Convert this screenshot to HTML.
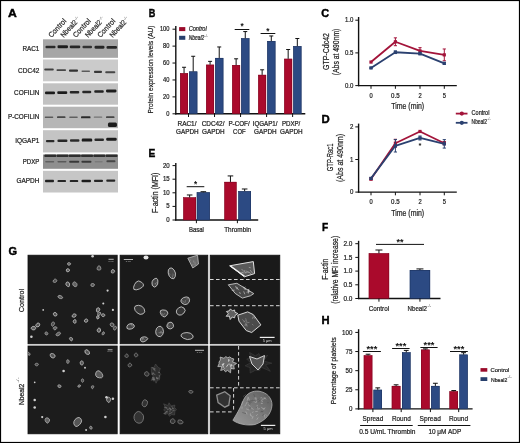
<!DOCTYPE html>
<html><head><meta charset="utf-8"><style>
html,body{margin:0;padding:0;background:#fff;}
body{width:520px;height:443px;overflow:hidden;position:relative;}
svg{position:absolute;left:0;top:0;will-change:transform;}
text{font-family:"Liberation Sans", sans-serif;}
</style></head><body>
<svg width="520" height="443" viewBox="0 0 520 443">
<defs>
<filter id="blur1" x="-20%" y="-50%" width="140%" height="200%"><feGaussianBlur stdDeviation="0.55"/></filter>
<filter id="blur07" x="-10%" y="-10%" width="120%" height="120%"><feGaussianBlur stdDeviation="0.6"/></filter>
<filter id="blur05" x="-10%" y="-10%" width="120%" height="120%"><feGaussianBlur stdDeviation="0.45"/></filter>
</defs>
<rect x="0" y="0" width="520" height="443" fill="#fff"/>
<text x="7.9" y="16.9" font-size="11.8" text-anchor="start" font-weight="bold" fill="#000" textLength="8.8" lengthAdjust="spacingAndGlyphs" stroke="#000" stroke-width="0.45">A</text>
<text x="51.4" y="37.9" font-size="7.4" text-anchor="start" font-weight="normal" fill="#2a2a2a" textLength="22.5" lengthAdjust="spacingAndGlyphs" transform="rotate(-47 51.4 37.9)" stroke="#2a2a2a" stroke-width="0.22">Control</text>
<text x="63.65" y="37.9" font-size="7.4" text-anchor="start" font-weight="normal" fill="#2a2a2a" textLength="20.5" lengthAdjust="spacingAndGlyphs" transform="rotate(-47 63.65 37.9)" stroke="#2a2a2a" stroke-width="0.22">Nbeal2</text>
<text x="75.85" y="20.56" font-size="3.6" text-anchor="start" font-weight="normal" fill="#444" textLength="4.2" lengthAdjust="spacingAndGlyphs" transform="rotate(-47 75.85 20.56)">-/-</text>
<text x="75.9" y="37.9" font-size="7.4" text-anchor="start" font-weight="normal" fill="#2a2a2a" textLength="22.5" lengthAdjust="spacingAndGlyphs" transform="rotate(-47 75.9 37.9)" stroke="#2a2a2a" stroke-width="0.22">Control</text>
<text x="88.15" y="37.9" font-size="7.4" text-anchor="start" font-weight="normal" fill="#2a2a2a" textLength="20.5" lengthAdjust="spacingAndGlyphs" transform="rotate(-47 88.15 37.9)" stroke="#2a2a2a" stroke-width="0.22">Nbeal2</text>
<text x="100.35" y="20.56" font-size="3.6" text-anchor="start" font-weight="normal" fill="#444" textLength="4.2" lengthAdjust="spacingAndGlyphs" transform="rotate(-47 100.35 20.56)">-/-</text>
<text x="100.4" y="37.9" font-size="7.4" text-anchor="start" font-weight="normal" fill="#2a2a2a" textLength="22.5" lengthAdjust="spacingAndGlyphs" transform="rotate(-47 100.4 37.9)" stroke="#2a2a2a" stroke-width="0.22">Control</text>
<text x="112.65" y="37.9" font-size="7.4" text-anchor="start" font-weight="normal" fill="#2a2a2a" textLength="20.5" lengthAdjust="spacingAndGlyphs" transform="rotate(-47 112.65 37.9)" stroke="#2a2a2a" stroke-width="0.22">Nbeal2</text>
<text x="124.85" y="20.56" font-size="3.6" text-anchor="start" font-weight="normal" fill="#444" textLength="4.2" lengthAdjust="spacingAndGlyphs" transform="rotate(-47 124.85 20.56)">-/-</text>
<rect x="43" y="39.3" width="75" height="18.5" fill="#a6a6a6"/>
<text x="39.4" y="50.6" font-size="7.2" text-anchor="end" font-weight="normal" fill="#222" textLength="17" lengthAdjust="spacingAndGlyphs" stroke="#222" stroke-width="0.22">RAC1</text>
<rect x="43" y="59.5" width="75" height="21.799999999999997" fill="#cbcbcb"/>
<text x="39.4" y="72.6" font-size="7.2" text-anchor="end" font-weight="normal" fill="#222" textLength="21.3" lengthAdjust="spacingAndGlyphs" stroke="#222" stroke-width="0.22">CDC42</text>
<rect x="43" y="83.3" width="75" height="21.400000000000006" fill="#c2c2c2"/>
<text x="39.4" y="95.0" font-size="7.2" text-anchor="end" font-weight="normal" fill="#222" textLength="25.4" lengthAdjust="spacingAndGlyphs" stroke="#222" stroke-width="0.22">COFILIN</text>
<rect x="43" y="106.7" width="75" height="21.499999999999986" fill="#b6b6b6"/>
<text x="39.4" y="119.0" font-size="7.2" text-anchor="end" font-weight="normal" fill="#222" textLength="31.5" lengthAdjust="spacingAndGlyphs" stroke="#222" stroke-width="0.22">P-COFILIN</text>
<rect x="43" y="130.2" width="75" height="22.200000000000017" fill="#c4c4c4"/>
<text x="39.4" y="143.2" font-size="7.2" text-anchor="end" font-weight="normal" fill="#222" textLength="24.2" lengthAdjust="spacingAndGlyphs" stroke="#222" stroke-width="0.22">IQGAP1</text>
<rect x="43" y="154.5" width="75" height="14.300000000000011" fill="#8f8f8f"/>
<text x="39.4" y="163.8" font-size="7.2" text-anchor="end" font-weight="normal" fill="#222" textLength="16.6" lengthAdjust="spacingAndGlyphs" stroke="#222" stroke-width="0.22">PDXP</text>
<rect x="43" y="170.8" width="75" height="21.69999999999999" fill="#c6c6c6"/>
<text x="39.4" y="183.1" font-size="7.2" text-anchor="end" font-weight="normal" fill="#222" textLength="23" lengthAdjust="spacingAndGlyphs" stroke="#222" stroke-width="0.22">GAPDH</text>
<g filter="url(#blur1)">
<rect x="45.50" y="45.70" width="10" height="2.6" rx="1.04" fill="rgb(44,44,44)"/>
<rect x="57.50" y="45.30" width="10.5" height="3.0" rx="1.20" fill="rgb(31,31,31)"/>
<rect x="69.75" y="45.50" width="10.5" height="2.8" rx="1.12" fill="rgb(40,40,40)"/>
<rect x="82.50" y="45.80" width="9.5" height="2.4" rx="0.96" fill="rgb(50,50,50)"/>
<rect x="94.50" y="45.75" width="10" height="2.9" rx="1.16" fill="rgb(38,38,38)"/>
<rect x="106.50" y="45.95" width="10.5" height="2.9" rx="1.16" fill="rgb(38,38,38)"/>
<rect x="44.25" y="68.60" width="9.5" height="2.0" rx="0.80" fill="rgb(64,64,64)"/>
<rect x="56.50" y="69.15" width="9.5" height="1.9" rx="0.76" fill="rgb(70,70,70)"/>
<rect x="69.00" y="69.45" width="9" height="2.3" rx="0.92" fill="rgb(50,50,50)"/>
<rect x="81.50" y="70.40" width="8.5" height="1.6" rx="0.64" fill="rgb(90,90,90)"/>
<rect x="94.00" y="70.70" width="8" height="2.2" rx="0.88" fill="rgb(57,57,57)"/>
<rect x="105.25" y="71.20" width="10" height="2.0" rx="0.80" fill="rgb(70,70,70)"/>
<rect x="45.00" y="91.50" width="10" height="2.8" rx="1.12" fill="rgb(31,31,31)"/>
<rect x="57.25" y="91.20" width="10" height="2.8" rx="1.12" fill="rgb(31,31,31)"/>
<rect x="69.75" y="91.00" width="9.5" height="2.6" rx="1.04" fill="rgb(38,38,38)"/>
<rect x="82.25" y="90.70" width="9" height="2.6" rx="1.04" fill="rgb(38,38,38)"/>
<rect x="94.25" y="90.20" width="9.5" height="2.6" rx="1.04" fill="rgb(35,35,35)"/>
<rect x="106.00" y="89.55" width="10.5" height="2.9" rx="1.16" fill="rgb(31,31,31)"/>
<rect x="44.75" y="116.45" width="8.5" height="1.5" rx="0.60" fill="rgb(90,90,90)"/>
<rect x="57.00" y="116.30" width="8.5" height="1.8" rx="0.72" fill="rgb(70,70,70)"/>
<rect x="69.25" y="116.45" width="8.5" height="1.5" rx="0.60" fill="rgb(96,96,96)"/>
<rect x="81.00" y="116.15" width="9.5" height="2.1" rx="0.84" fill="rgb(44,44,44)"/>
<rect x="93.75" y="116.55" width="8.5" height="1.3" rx="0.52" fill="rgb(116,116,116)"/>
<rect x="106.00" y="116.30" width="8.5" height="1.8" rx="0.72" fill="rgb(70,70,70)"/>
<rect x="45.95" y="139.90" width="8.5" height="2.4" rx="0.96" fill="rgb(44,44,44)"/>
<rect x="57.45" y="139.50" width="10" height="2.6" rx="1.04" fill="rgb(38,38,38)"/>
<rect x="69.95" y="139.25" width="9.5" height="2.5" rx="1.00" fill="rgb(44,44,44)"/>
<rect x="81.70" y="138.60" width="10.5" height="3.0" rx="1.20" fill="rgb(28,28,28)"/>
<rect x="94.45" y="138.50" width="9.5" height="2.4" rx="0.96" fill="rgb(44,44,44)"/>
<rect x="106.20" y="137.70" width="10.5" height="3.0" rx="1.20" fill="rgb(28,28,28)"/>
<rect x="45.20" y="160.90" width="9" height="1.6" rx="0.64" fill="rgb(96,96,96)"/>
<rect x="57.45" y="160.90" width="9" height="1.6" rx="0.64" fill="rgb(90,90,90)"/>
<rect x="69.20" y="160.70" width="10" height="2.0" rx="0.80" fill="rgb(57,57,57)"/>
<rect x="81.45" y="160.70" width="10" height="2.0" rx="0.80" fill="rgb(57,57,57)"/>
<rect x="94.70" y="161.00" width="8" height="1.4" rx="0.56" fill="rgb(122,122,122)"/>
<rect x="106.45" y="160.25" width="9" height="1.9" rx="0.76" fill="rgb(70,70,70)"/>
<rect x="45.00" y="179.85" width="9" height="2.3" rx="0.92" fill="rgb(35,35,35)"/>
<rect x="57.50" y="179.90" width="8.5" height="2.2" rx="0.88" fill="rgb(40,40,40)"/>
<rect x="69.75" y="179.90" width="8.5" height="2.2" rx="0.88" fill="rgb(40,40,40)"/>
<rect x="81.50" y="179.75" width="9.5" height="2.5" rx="1.00" fill="rgb(28,28,28)"/>
<rect x="94.00" y="179.70" width="9" height="2.2" rx="0.88" fill="rgb(40,40,40)"/>
<rect x="106.25" y="179.50" width="9" height="2.2" rx="0.88" fill="rgb(40,40,40)"/>
<rect x="107.95" y="122.5" width="9" height="4.4" rx="1.5" fill="#1e1e1e"/>
<rect x="44.30" y="154.6" width="12" height="2.4" rx="0.8" fill="#2e2e2e"/>
<rect x="56.55" y="154.6" width="12" height="2.4" rx="0.8" fill="#2e2e2e"/>
<rect x="68.80" y="154.6" width="12" height="2.4" rx="0.8" fill="#2e2e2e"/>
<rect x="81.05" y="154.6" width="12" height="2.4" rx="0.8" fill="#2e2e2e"/>
<rect x="93.30" y="154.6" width="12" height="2.4" rx="0.8" fill="#2e2e2e"/>
<rect x="105.55" y="154.6" width="12" height="2.4" rx="0.8" fill="#2e2e2e"/>
</g>
<text x="148.7" y="16.9" font-size="11.8" text-anchor="start" font-weight="bold" fill="#000" textLength="6.6" lengthAdjust="spacingAndGlyphs" stroke="#000" stroke-width="0.45">B</text>
<line x1="175.8" y1="26.1" x2="175.8" y2="114.39999999999999" stroke="#111" stroke-width="1.4"/>
<line x1="175.10000000000002" y1="113.8" x2="305.3" y2="113.8" stroke="#111" stroke-width="1.4"/>
<line x1="172.5" y1="113.8" x2="175.8" y2="113.8" stroke="#111" stroke-width="1"/>
<text x="169.5" y="115.8" font-size="7" text-anchor="end" font-weight="normal" fill="#222" textLength="3.2" lengthAdjust="spacingAndGlyphs" stroke="#222" stroke-width="0.22">0</text>
<line x1="172.5" y1="96.88" x2="175.8" y2="96.88" stroke="#111" stroke-width="1"/>
<text x="169.5" y="98.88" font-size="7" text-anchor="end" font-weight="normal" fill="#222" textLength="6.4" lengthAdjust="spacingAndGlyphs" stroke="#222" stroke-width="0.22">20</text>
<line x1="172.5" y1="79.96000000000001" x2="175.8" y2="79.96000000000001" stroke="#111" stroke-width="1"/>
<text x="169.5" y="81.96000000000001" font-size="7" text-anchor="end" font-weight="normal" fill="#222" textLength="6.4" lengthAdjust="spacingAndGlyphs" stroke="#222" stroke-width="0.22">40</text>
<line x1="172.5" y1="63.04" x2="175.8" y2="63.04" stroke="#111" stroke-width="1"/>
<text x="169.5" y="65.03999999999999" font-size="7" text-anchor="end" font-weight="normal" fill="#222" textLength="6.4" lengthAdjust="spacingAndGlyphs" stroke="#222" stroke-width="0.22">60</text>
<line x1="172.5" y1="46.120000000000005" x2="175.8" y2="46.120000000000005" stroke="#111" stroke-width="1"/>
<text x="169.5" y="48.120000000000005" font-size="7" text-anchor="end" font-weight="normal" fill="#222" textLength="6.4" lengthAdjust="spacingAndGlyphs" stroke="#222" stroke-width="0.22">80</text>
<line x1="172.5" y1="29.200000000000003" x2="175.8" y2="29.200000000000003" stroke="#111" stroke-width="1"/>
<text x="169.5" y="31.200000000000003" font-size="7" text-anchor="end" font-weight="normal" fill="#222" textLength="9.600000000000001" lengthAdjust="spacingAndGlyphs" stroke="#222" stroke-width="0.22">100</text>
<rect x="180.1" y="73.19200000000001" width="7.900000000000006" height="40.60799999999999" fill="#aa0a2c"/>
<rect x="180.35" y="73.44200000000001" width="7.400000000000006" height="40.35799999999999" fill="none" stroke="#7a0620" stroke-width="0.5"/>
<rect x="189.1" y="71.5" width="8.200000000000017" height="42.3" fill="#2c4a83"/>
<rect x="189.35" y="71.75" width="7.700000000000017" height="42.05" fill="none" stroke="#1a2f58" stroke-width="0.5"/>
<line x1="184.05" y1="73.19200000000001" x2="184.05" y2="67.27" stroke="#111" stroke-width="1.0"/>
<line x1="182.05" y1="67.27" x2="186.05" y2="67.27" stroke="#111" stroke-width="1.0"/>
<line x1="193.2" y1="71.5" x2="193.2" y2="56.272" stroke="#111" stroke-width="1.0"/>
<line x1="191.2" y1="56.272" x2="195.2" y2="56.272" stroke="#111" stroke-width="1.0"/>
<line x1="188.5" y1="113.8" x2="188.5" y2="117.0" stroke="#111" stroke-width="1"/>
<rect x="206.13" y="64.732" width="7.900000000000006" height="49.068" fill="#aa0a2c"/>
<rect x="206.38" y="64.982" width="7.400000000000006" height="48.818" fill="none" stroke="#7a0620" stroke-width="0.5"/>
<rect x="215.13" y="57.964" width="8.200000000000017" height="55.836" fill="#2c4a83"/>
<rect x="215.38" y="58.214" width="7.700000000000017" height="55.586" fill="none" stroke="#1a2f58" stroke-width="0.5"/>
<line x1="210.08" y1="64.732" x2="210.08" y2="61.348" stroke="#111" stroke-width="1.0"/>
<line x1="208.08" y1="61.348" x2="212.08" y2="61.348" stroke="#111" stroke-width="1.0"/>
<line x1="219.23" y1="57.964" x2="219.23" y2="46.965999999999994" stroke="#111" stroke-width="1.0"/>
<line x1="217.23" y1="46.965999999999994" x2="221.23" y2="46.965999999999994" stroke="#111" stroke-width="1.0"/>
<line x1="214.53" y1="113.8" x2="214.53" y2="117.0" stroke="#111" stroke-width="1"/>
<rect x="232.16" y="65.0704" width="7.900000000000006" height="48.72959999999999" fill="#aa0a2c"/>
<rect x="232.41" y="65.3204" width="7.400000000000006" height="48.47959999999999" fill="none" stroke="#7a0620" stroke-width="0.5"/>
<rect x="241.16" y="38.2522" width="8.200000000000017" height="75.5478" fill="#2c4a83"/>
<rect x="241.41" y="38.5022" width="7.700000000000017" height="75.2978" fill="none" stroke="#1a2f58" stroke-width="0.5"/>
<line x1="236.11" y1="65.0704" x2="236.11" y2="58.81" stroke="#111" stroke-width="1.0"/>
<line x1="234.11" y1="58.81" x2="238.11" y2="58.81" stroke="#111" stroke-width="1.0"/>
<line x1="245.26" y1="38.2522" x2="245.26" y2="31.568799999999996" stroke="#111" stroke-width="1.0"/>
<line x1="243.26" y1="31.568799999999996" x2="247.26" y2="31.568799999999996" stroke="#111" stroke-width="1.0"/>
<line x1="240.56" y1="113.8" x2="240.56" y2="117.0" stroke="#111" stroke-width="1"/>
<rect x="258.19000000000005" y="74.884" width="7.899999999999977" height="38.916" fill="#aa0a2c"/>
<rect x="258.44000000000005" y="75.134" width="7.399999999999977" height="38.666" fill="none" stroke="#7a0620" stroke-width="0.5"/>
<rect x="267.19000000000005" y="41.044" width="8.199999999999989" height="72.756" fill="#2c4a83"/>
<rect x="267.44000000000005" y="41.294" width="7.699999999999989" height="72.506" fill="none" stroke="#1a2f58" stroke-width="0.5"/>
<line x1="262.14000000000004" y1="74.884" x2="262.14000000000004" y2="69.80799999999999" stroke="#111" stroke-width="1.0"/>
<line x1="260.14000000000004" y1="69.80799999999999" x2="264.14000000000004" y2="69.80799999999999" stroke="#111" stroke-width="1.0"/>
<line x1="271.29" y1="41.044" x2="271.29" y2="35.968" stroke="#111" stroke-width="1.0"/>
<line x1="269.29" y1="35.968" x2="273.29" y2="35.968" stroke="#111" stroke-width="1.0"/>
<line x1="266.59000000000003" y1="113.8" x2="266.59000000000003" y2="117.0" stroke="#111" stroke-width="1"/>
<rect x="284.22" y="58.81" width="7.899999999999977" height="54.989999999999995" fill="#aa0a2c"/>
<rect x="284.47" y="59.06" width="7.399999999999977" height="54.739999999999995" fill="none" stroke="#7a0620" stroke-width="0.5"/>
<rect x="293.22" y="46.120000000000005" width="8.199999999999989" height="67.67999999999999" fill="#2c4a83"/>
<rect x="293.47" y="46.370000000000005" width="7.699999999999989" height="67.42999999999999" fill="none" stroke="#1a2f58" stroke-width="0.5"/>
<line x1="288.17" y1="58.81" x2="288.17" y2="49.504000000000005" stroke="#111" stroke-width="1.0"/>
<line x1="286.17" y1="49.504000000000005" x2="290.17" y2="49.504000000000005" stroke="#111" stroke-width="1.0"/>
<line x1="297.32" y1="46.120000000000005" x2="297.32" y2="38.506" stroke="#111" stroke-width="1.0"/>
<line x1="295.32" y1="38.506" x2="299.32" y2="38.506" stroke="#111" stroke-width="1.0"/>
<line x1="292.62" y1="113.8" x2="292.62" y2="117.0" stroke="#111" stroke-width="1"/>
<line x1="234.7" y1="29.5" x2="249.3" y2="29.5" stroke="#111" stroke-width="1"/>
<text x="242" y="29.11" font-size="8.2" text-anchor="middle" font-weight="bold" fill="#111">*</text>
<line x1="260.6" y1="33.5" x2="275.3" y2="33.5" stroke="#111" stroke-width="1"/>
<text x="267.8" y="33.91" font-size="8.2" text-anchor="middle" font-weight="bold" fill="#111">*</text>
<rect x="179.1" y="27.1" width="6.2" height="4.0" fill="#9a0a2a"/>
<rect x="179.1" y="35.8" width="6.2" height="4.0" fill="#273f6c"/>
<text x="188.7" y="30.9" font-size="6.4" text-anchor="start" font-weight="normal" fill="#222" textLength="18" lengthAdjust="spacingAndGlyphs" font-style="italic" stroke="#222" stroke-width="0.22">Control</text>
<text x="188.7" y="39.7" font-size="6.4" text-anchor="start" font-weight="normal" fill="#222" textLength="15.5" lengthAdjust="spacingAndGlyphs" font-style="italic" stroke="#222" stroke-width="0.22">Nbeal2</text>
<text x="204.5" y="36.7" font-size="3.4" text-anchor="start" font-weight="normal" fill="#444">-/-</text>
<text x="152.6" y="69.5" font-size="7.6" text-anchor="middle" font-weight="normal" fill="#222" textLength="88" lengthAdjust="spacingAndGlyphs" transform="rotate(-90 152.6 69.5)" stroke="#222" stroke-width="0.22">Protein expression levels (AU)</text>
<text x="187.0" y="126.2" font-size="6.5" text-anchor="middle" font-weight="normal" fill="#222" textLength="19" lengthAdjust="spacingAndGlyphs" stroke="#222" stroke-width="0.22">RAC1/</text>
<text x="187.3" y="133.7" font-size="6.5" text-anchor="middle" font-weight="normal" fill="#222" textLength="22.6" lengthAdjust="spacingAndGlyphs" stroke="#222" stroke-width="0.22">GAPDH</text>
<text x="213.03" y="126.2" font-size="6.5" text-anchor="middle" font-weight="normal" fill="#222" textLength="22.8" lengthAdjust="spacingAndGlyphs" stroke="#222" stroke-width="0.22">CDC42/</text>
<text x="213.33" y="133.7" font-size="6.5" text-anchor="middle" font-weight="normal" fill="#222" textLength="22.6" lengthAdjust="spacingAndGlyphs" stroke="#222" stroke-width="0.22">GAPDH</text>
<text x="239.06" y="126.2" font-size="6.5" text-anchor="middle" font-weight="normal" fill="#222" textLength="21.3" lengthAdjust="spacingAndGlyphs" stroke="#222" stroke-width="0.22">P-COF/</text>
<text x="239.36" y="133.7" font-size="6.5" text-anchor="middle" font-weight="normal" fill="#222" textLength="12.5" lengthAdjust="spacingAndGlyphs" stroke="#222" stroke-width="0.22">COF</text>
<text x="265.09000000000003" y="126.2" font-size="6.5" text-anchor="middle" font-weight="normal" fill="#222" textLength="24.8" lengthAdjust="spacingAndGlyphs" stroke="#222" stroke-width="0.22">IQGAP1/</text>
<text x="265.39000000000004" y="133.7" font-size="6.5" text-anchor="middle" font-weight="normal" fill="#222" textLength="22.6" lengthAdjust="spacingAndGlyphs" stroke="#222" stroke-width="0.22">GAPDH</text>
<text x="291.12" y="126.2" font-size="6.5" text-anchor="middle" font-weight="normal" fill="#222" textLength="18.4" lengthAdjust="spacingAndGlyphs" stroke="#222" stroke-width="0.22">PDXP/</text>
<text x="291.42" y="133.7" font-size="6.5" text-anchor="middle" font-weight="normal" fill="#222" textLength="22.6" lengthAdjust="spacingAndGlyphs" stroke="#222" stroke-width="0.22">GAPDH</text>
<text x="321.3" y="17.3" font-size="11.8" text-anchor="start" font-weight="bold" fill="#000" textLength="7.9" lengthAdjust="spacingAndGlyphs" stroke="#000" stroke-width="0.45">C</text>
<line x1="358.6" y1="17.0" x2="358.6" y2="86.19999999999999" stroke="#111" stroke-width="1.4"/>
<line x1="357.90000000000003" y1="85.6" x2="456.8" y2="85.6" stroke="#111" stroke-width="1.4"/>
<line x1="355.3" y1="85.6" x2="358.6" y2="85.6" stroke="#111" stroke-width="1"/>
<text x="353.3" y="87.8" font-size="7" text-anchor="end" font-weight="normal" fill="#222" textLength="8.4" lengthAdjust="spacingAndGlyphs" stroke="#222" stroke-width="0.22">0.0</text>
<line x1="355.3" y1="52.89999999999999" x2="358.6" y2="52.89999999999999" stroke="#111" stroke-width="1"/>
<text x="353.3" y="55.099999999999994" font-size="7" text-anchor="end" font-weight="normal" fill="#222" textLength="8.4" lengthAdjust="spacingAndGlyphs" stroke="#222" stroke-width="0.22">0.5</text>
<line x1="355.3" y1="20.19999999999999" x2="358.6" y2="20.19999999999999" stroke="#111" stroke-width="1"/>
<text x="353.3" y="22.399999999999988" font-size="7" text-anchor="end" font-weight="normal" fill="#222" textLength="8.4" lengthAdjust="spacingAndGlyphs" stroke="#222" stroke-width="0.22">1.0</text>
<line x1="371" y1="85.6" x2="371" y2="88.8" stroke="#111" stroke-width="1"/>
<text x="371" y="97.5" font-size="6.6" text-anchor="middle" font-weight="normal" fill="#222" textLength="3.2" lengthAdjust="spacingAndGlyphs" stroke="#222" stroke-width="0.22">0</text>
<line x1="395.4" y1="85.6" x2="395.4" y2="88.8" stroke="#111" stroke-width="1"/>
<text x="395.4" y="97.5" font-size="6.6" text-anchor="middle" font-weight="normal" fill="#222" textLength="8.6" lengthAdjust="spacingAndGlyphs" stroke="#222" stroke-width="0.22">0.5</text>
<line x1="420" y1="85.6" x2="420" y2="88.8" stroke="#111" stroke-width="1"/>
<text x="420" y="97.5" font-size="6.6" text-anchor="middle" font-weight="normal" fill="#222" textLength="3.2" lengthAdjust="spacingAndGlyphs" stroke="#222" stroke-width="0.22">2</text>
<line x1="444.3" y1="85.6" x2="444.3" y2="88.8" stroke="#111" stroke-width="1"/>
<text x="444.3" y="97.5" font-size="6.6" text-anchor="middle" font-weight="normal" fill="#222" textLength="3.2" lengthAdjust="spacingAndGlyphs" stroke="#222" stroke-width="0.22">5</text>
<text x="407.7" y="109.2" font-size="8.8" text-anchor="middle" font-weight="normal" fill="#222" textLength="33" lengthAdjust="spacingAndGlyphs" stroke="#222" stroke-width="0.22">Time (min)</text>
<text x="328.7" y="51.5" font-size="9.0" text-anchor="middle" font-weight="normal" fill="#222" textLength="37" lengthAdjust="spacingAndGlyphs" transform="rotate(-90 328.7 51.5)" stroke="#222" stroke-width="0.22">GTP-Cdc42</text>
<text x="338.9" y="51.9" font-size="9.0" text-anchor="middle" font-weight="normal" fill="#222" textLength="46.6" lengthAdjust="spacingAndGlyphs" transform="rotate(-90 338.9 51.9)" stroke="#222" stroke-width="0.22">(Abs at 490nm)</text>
<polyline points="371,62.06 395.4,41.78 420,50.94 444.3,54.86" fill="none" stroke="#a3143a" stroke-width="1.8" stroke-linejoin="round"/>
<rect x="369.4" y="60.46" width="3.2" height="3.2" fill="#a3143a"/>
<line x1="395.4" y1="37.85799999999999" x2="395.4" y2="45.70599999999999" stroke="#a3143a" stroke-width="1.0"/>
<line x1="393.79999999999995" y1="37.85799999999999" x2="397.0" y2="37.85799999999999" stroke="#a3143a" stroke-width="1.0"/>
<line x1="393.79999999999995" y1="45.70599999999999" x2="397.0" y2="45.70599999999999" stroke="#a3143a" stroke-width="1.0"/>
<rect x="393.79999999999995" y="40.18" width="3.2" height="3.2" fill="#a3143a"/>
<line x1="420" y1="47.667999999999985" x2="420" y2="54.20799999999999" stroke="#a3143a" stroke-width="1.0"/>
<line x1="418.4" y1="47.667999999999985" x2="421.6" y2="47.667999999999985" stroke="#a3143a" stroke-width="1.0"/>
<line x1="418.4" y1="54.20799999999999" x2="421.6" y2="54.20799999999999" stroke="#a3143a" stroke-width="1.0"/>
<rect x="418.4" y="49.34" width="3.2" height="3.2" fill="#a3143a"/>
<line x1="444.3" y1="48.97599999999999" x2="444.3" y2="60.748" stroke="#a3143a" stroke-width="1.0"/>
<line x1="442.7" y1="48.97599999999999" x2="445.90000000000003" y2="48.97599999999999" stroke="#a3143a" stroke-width="1.0"/>
<line x1="442.7" y1="60.748" x2="445.90000000000003" y2="60.748" stroke="#a3143a" stroke-width="1.0"/>
<rect x="442.7" y="53.26" width="3.2" height="3.2" fill="#a3143a"/>
<polyline points="371,67.94 395.4,52.25 420,53.55 444.3,63.36" fill="none" stroke="#2b4170" stroke-width="1.8" stroke-linejoin="round"/>
<line x1="371" y1="67.288" x2="371" y2="68.59599999999999" stroke="#2b4170" stroke-width="1.0"/>
<line x1="369.4" y1="67.288" x2="372.6" y2="67.288" stroke="#2b4170" stroke-width="1.0"/>
<line x1="369.4" y1="68.59599999999999" x2="372.6" y2="68.59599999999999" stroke="#2b4170" stroke-width="1.0"/>
<rect x="369.4" y="66.34" width="3.2" height="3.2" fill="#2b4170"/>
<line x1="395.4" y1="50.93799999999999" x2="395.4" y2="53.55399999999999" stroke="#2b4170" stroke-width="1.0"/>
<line x1="393.79999999999995" y1="50.93799999999999" x2="397.0" y2="50.93799999999999" stroke="#2b4170" stroke-width="1.0"/>
<line x1="393.79999999999995" y1="53.55399999999999" x2="397.0" y2="53.55399999999999" stroke="#2b4170" stroke-width="1.0"/>
<rect x="393.79999999999995" y="50.65" width="3.2" height="3.2" fill="#2b4170"/>
<line x1="420" y1="52.245999999999995" x2="420" y2="54.861999999999995" stroke="#2b4170" stroke-width="1.0"/>
<line x1="418.4" y1="52.245999999999995" x2="421.6" y2="52.245999999999995" stroke="#2b4170" stroke-width="1.0"/>
<line x1="418.4" y1="54.861999999999995" x2="421.6" y2="54.861999999999995" stroke="#2b4170" stroke-width="1.0"/>
<rect x="418.4" y="51.95" width="3.2" height="3.2" fill="#2b4170"/>
<line x1="444.3" y1="62.38299999999999" x2="444.3" y2="64.34499999999998" stroke="#2b4170" stroke-width="1.0"/>
<line x1="442.7" y1="62.38299999999999" x2="445.90000000000003" y2="62.38299999999999" stroke="#2b4170" stroke-width="1.0"/>
<line x1="442.7" y1="64.34499999999998" x2="445.90000000000003" y2="64.34499999999998" stroke="#2b4170" stroke-width="1.0"/>
<rect x="442.7" y="61.76" width="3.2" height="3.2" fill="#2b4170"/>
<text x="321.5" y="123.3" font-size="11.8" text-anchor="start" font-weight="bold" fill="#000" textLength="8.2" lengthAdjust="spacingAndGlyphs" stroke="#000" stroke-width="0.45">D</text>
<line x1="358.6" y1="123.6" x2="358.6" y2="192.7" stroke="#111" stroke-width="1.4"/>
<line x1="357.90000000000003" y1="192.1" x2="456.8" y2="192.1" stroke="#111" stroke-width="1.4"/>
<line x1="355.3" y1="192.1" x2="358.6" y2="192.1" stroke="#111" stroke-width="1"/>
<text x="353.3" y="194.29999999999998" font-size="7" text-anchor="end" font-weight="normal" fill="#222" textLength="3.4" lengthAdjust="spacingAndGlyphs" stroke="#222" stroke-width="0.22">0</text>
<line x1="355.3" y1="159.5" x2="358.6" y2="159.5" stroke="#111" stroke-width="1"/>
<text x="353.3" y="161.7" font-size="7" text-anchor="end" font-weight="normal" fill="#222" textLength="3.4" lengthAdjust="spacingAndGlyphs" stroke="#222" stroke-width="0.22">1</text>
<line x1="355.3" y1="126.89999999999999" x2="358.6" y2="126.89999999999999" stroke="#111" stroke-width="1"/>
<text x="353.3" y="129.1" font-size="7" text-anchor="end" font-weight="normal" fill="#222" textLength="3.4" lengthAdjust="spacingAndGlyphs" stroke="#222" stroke-width="0.22">2</text>
<line x1="371" y1="192.1" x2="371" y2="195.29999999999998" stroke="#111" stroke-width="1"/>
<text x="371" y="204.2" font-size="6.6" text-anchor="middle" font-weight="normal" fill="#222" textLength="3.2" lengthAdjust="spacingAndGlyphs" stroke="#222" stroke-width="0.22">0</text>
<line x1="395.4" y1="192.1" x2="395.4" y2="195.29999999999998" stroke="#111" stroke-width="1"/>
<text x="395.4" y="204.2" font-size="6.6" text-anchor="middle" font-weight="normal" fill="#222" textLength="8.6" lengthAdjust="spacingAndGlyphs" stroke="#222" stroke-width="0.22">0.5</text>
<line x1="420" y1="192.1" x2="420" y2="195.29999999999998" stroke="#111" stroke-width="1"/>
<text x="420" y="204.2" font-size="6.6" text-anchor="middle" font-weight="normal" fill="#222" textLength="3.2" lengthAdjust="spacingAndGlyphs" stroke="#222" stroke-width="0.22">2</text>
<line x1="444.3" y1="192.1" x2="444.3" y2="195.29999999999998" stroke="#111" stroke-width="1"/>
<text x="444.3" y="204.2" font-size="6.6" text-anchor="middle" font-weight="normal" fill="#222" textLength="3.2" lengthAdjust="spacingAndGlyphs" stroke="#222" stroke-width="0.22">5</text>
<text x="407.7" y="215.6" font-size="8.8" text-anchor="middle" font-weight="normal" fill="#222" textLength="33" lengthAdjust="spacingAndGlyphs" stroke="#222" stroke-width="0.22">Time (min)</text>
<text x="333.5" y="157.4" font-size="9.0" text-anchor="middle" font-weight="normal" fill="#222" textLength="27.7" lengthAdjust="spacingAndGlyphs" transform="rotate(-90 333.5 157.4)" stroke="#222" stroke-width="0.22">GTP-Rac1</text>
<text x="343.3" y="158.0" font-size="9.0" text-anchor="middle" font-weight="normal" fill="#222" textLength="48" lengthAdjust="spacingAndGlyphs" transform="rotate(-90 343.3 158.0)" stroke="#222" stroke-width="0.22">(Abs at 490nm)</text>
<polyline points="371,179.06 395.4,143.20 420,131.46 444.3,143.20" fill="none" stroke="#a3143a" stroke-width="1.8" stroke-linejoin="round"/>
<line x1="371" y1="178.082" x2="371" y2="180.038" stroke="#a3143a" stroke-width="1.0"/>
<line x1="369.4" y1="178.082" x2="372.6" y2="178.082" stroke="#a3143a" stroke-width="1.0"/>
<line x1="369.4" y1="180.038" x2="372.6" y2="180.038" stroke="#a3143a" stroke-width="1.0"/>
<rect x="369.4" y="177.46" width="3.2" height="3.2" fill="#a3143a"/>
<line x1="395.4" y1="139.28799999999998" x2="395.4" y2="147.112" stroke="#a3143a" stroke-width="1.0"/>
<line x1="393.79999999999995" y1="139.28799999999998" x2="397.0" y2="139.28799999999998" stroke="#a3143a" stroke-width="1.0"/>
<line x1="393.79999999999995" y1="147.112" x2="397.0" y2="147.112" stroke="#a3143a" stroke-width="1.0"/>
<rect x="393.79999999999995" y="141.60" width="3.2" height="3.2" fill="#a3143a"/>
<rect x="418.4" y="129.86" width="3.2" height="3.2" fill="#a3143a"/>
<line x1="444.3" y1="141.57" x2="444.3" y2="144.82999999999998" stroke="#a3143a" stroke-width="1.0"/>
<line x1="442.7" y1="141.57" x2="445.90000000000003" y2="141.57" stroke="#a3143a" stroke-width="1.0"/>
<line x1="442.7" y1="144.82999999999998" x2="445.90000000000003" y2="144.82999999999998" stroke="#a3143a" stroke-width="1.0"/>
<rect x="442.7" y="141.60" width="3.2" height="3.2" fill="#a3143a"/>
<polyline points="371,178.41 395.4,145.81 420,137.98 444.3,143.85" fill="none" stroke="#2b4170" stroke-width="1.8" stroke-linejoin="round"/>
<line x1="371" y1="177.42999999999998" x2="371" y2="179.386" stroke="#2b4170" stroke-width="1.0"/>
<line x1="369.4" y1="177.42999999999998" x2="372.6" y2="177.42999999999998" stroke="#2b4170" stroke-width="1.0"/>
<line x1="369.4" y1="179.386" x2="372.6" y2="179.386" stroke="#2b4170" stroke-width="1.0"/>
<rect x="369.4" y="176.81" width="3.2" height="3.2" fill="#2b4170"/>
<line x1="395.4" y1="139.614" x2="395.4" y2="152.00199999999998" stroke="#2b4170" stroke-width="1.0"/>
<line x1="393.79999999999995" y1="139.614" x2="397.0" y2="139.614" stroke="#2b4170" stroke-width="1.0"/>
<line x1="393.79999999999995" y1="152.00199999999998" x2="397.0" y2="152.00199999999998" stroke="#2b4170" stroke-width="1.0"/>
<rect x="393.79999999999995" y="144.21" width="3.2" height="3.2" fill="#2b4170"/>
<line x1="420" y1="136.028" x2="420" y2="139.93999999999997" stroke="#2b4170" stroke-width="1.0"/>
<line x1="418.4" y1="136.028" x2="421.6" y2="136.028" stroke="#2b4170" stroke-width="1.0"/>
<line x1="418.4" y1="139.93999999999997" x2="421.6" y2="139.93999999999997" stroke="#2b4170" stroke-width="1.0"/>
<rect x="418.4" y="136.38" width="3.2" height="3.2" fill="#2b4170"/>
<line x1="444.3" y1="139.61399999999998" x2="444.3" y2="148.08999999999997" stroke="#2b4170" stroke-width="1.0"/>
<line x1="442.7" y1="139.61399999999998" x2="445.90000000000003" y2="139.61399999999998" stroke="#2b4170" stroke-width="1.0"/>
<line x1="442.7" y1="148.08999999999997" x2="445.90000000000003" y2="148.08999999999997" stroke="#2b4170" stroke-width="1.0"/>
<rect x="442.7" y="142.25" width="3.2" height="3.2" fill="#2b4170"/>
<text x="420.0" y="148.08" font-size="7.6" text-anchor="middle" font-weight="bold" fill="#111">*</text>
<line x1="455.8" y1="113.6" x2="467.5" y2="113.6" stroke="#a3143a" stroke-width="1.8"/>
<circle cx="461.8" cy="113.6" r="2.1" fill="#a3143a"/>
<text x="471.6" y="114.89999999999999" font-size="6.4" text-anchor="start" font-weight="normal" fill="#222" textLength="17.8" lengthAdjust="spacingAndGlyphs" stroke="#222" stroke-width="0.22">Control</text>
<line x1="455.8" y1="122.8" x2="467.5" y2="122.8" stroke="#2b4170" stroke-width="1.8"/>
<circle cx="461.8" cy="122.8" r="2.1" fill="#2b4170"/>
<text x="471.6" y="124.1" font-size="6.4" text-anchor="start" font-weight="normal" fill="#222" textLength="15.5" lengthAdjust="spacingAndGlyphs" stroke="#222" stroke-width="0.22">Nbeal2</text>
<text x="487.5" y="119.8" font-size="3.3" text-anchor="start" font-weight="normal" fill="#444">-/-</text>
<text x="148.4" y="157.2" font-size="11.8" text-anchor="start" font-weight="bold" fill="#000" textLength="6.8" lengthAdjust="spacingAndGlyphs" stroke="#000" stroke-width="0.45">E</text>
<line x1="175.8" y1="162.9" x2="175.8" y2="220.6" stroke="#111" stroke-width="1.4"/>
<line x1="175.10000000000002" y1="220.0" x2="258.2" y2="220.0" stroke="#111" stroke-width="1.4"/>
<line x1="172.5" y1="220.0" x2="175.8" y2="220.0" stroke="#111" stroke-width="1"/>
<text x="169.7" y="222.0" font-size="7" text-anchor="end" font-weight="normal" fill="#222" textLength="3.4" lengthAdjust="spacingAndGlyphs" stroke="#222" stroke-width="0.22">0</text>
<line x1="172.5" y1="206.4" x2="175.8" y2="206.4" stroke="#111" stroke-width="1"/>
<text x="169.7" y="208.4" font-size="7" text-anchor="end" font-weight="normal" fill="#222" textLength="3.4" lengthAdjust="spacingAndGlyphs" stroke="#222" stroke-width="0.22">5</text>
<line x1="172.5" y1="192.8" x2="175.8" y2="192.8" stroke="#111" stroke-width="1"/>
<text x="169.7" y="194.8" font-size="7" text-anchor="end" font-weight="normal" fill="#222" textLength="6.8" lengthAdjust="spacingAndGlyphs" stroke="#222" stroke-width="0.22">10</text>
<line x1="172.5" y1="179.2" x2="175.8" y2="179.2" stroke="#111" stroke-width="1"/>
<text x="169.7" y="181.2" font-size="7" text-anchor="end" font-weight="normal" fill="#222" textLength="6.8" lengthAdjust="spacingAndGlyphs" stroke="#222" stroke-width="0.22">15</text>
<line x1="172.5" y1="165.6" x2="175.8" y2="165.6" stroke="#111" stroke-width="1"/>
<text x="169.7" y="167.6" font-size="7" text-anchor="end" font-weight="normal" fill="#222" textLength="6.8" lengthAdjust="spacingAndGlyphs" stroke="#222" stroke-width="0.22">20</text>
<rect x="183.3" y="197.424" width="12.699999999999989" height="22.575999999999993" fill="#aa0a2c"/>
<rect x="183.55" y="197.674" width="12.199999999999989" height="22.325999999999993" fill="none" stroke="#7a0620" stroke-width="0.5"/>
<line x1="189.65" y1="197.424" x2="189.65" y2="194.976" stroke="#111" stroke-width="1.0"/>
<line x1="186.85" y1="194.976" x2="192.45000000000002" y2="194.976" stroke="#111" stroke-width="1.0"/>
<rect x="196.8" y="192.256" width="13.099999999999994" height="27.744" fill="#2c4a83"/>
<rect x="197.05" y="192.506" width="12.599999999999994" height="27.494" fill="none" stroke="#1a2f58" stroke-width="0.5"/>
<line x1="203.35000000000002" y1="192.256" x2="203.35000000000002" y2="191.712" stroke="#111" stroke-width="1.0"/>
<line x1="200.55" y1="191.712" x2="206.15000000000003" y2="191.712" stroke="#111" stroke-width="1.0"/>
<rect x="224.4" y="181.92" width="12.099999999999994" height="38.08000000000001" fill="#aa0a2c"/>
<rect x="224.65" y="182.17" width="11.599999999999994" height="37.83000000000001" fill="none" stroke="#7a0620" stroke-width="0.5"/>
<line x1="230.45" y1="181.92" x2="230.45" y2="175.936" stroke="#111" stroke-width="1.0"/>
<line x1="227.64999999999998" y1="175.936" x2="233.25" y2="175.936" stroke="#111" stroke-width="1.0"/>
<rect x="238.3" y="191.168" width="12.699999999999989" height="28.831999999999994" fill="#2c4a83"/>
<rect x="238.55" y="191.418" width="12.199999999999989" height="28.581999999999994" fill="none" stroke="#1a2f58" stroke-width="0.5"/>
<line x1="244.65" y1="191.168" x2="244.65" y2="188.992" stroke="#111" stroke-width="1.0"/>
<line x1="241.85" y1="188.992" x2="247.45000000000002" y2="188.992" stroke="#111" stroke-width="1.0"/>
<line x1="196.4" y1="220.0" x2="196.4" y2="223.2" stroke="#111" stroke-width="1"/>
<line x1="237.4" y1="220.0" x2="237.4" y2="223.2" stroke="#111" stroke-width="1"/>
<line x1="186.7" y1="186.7" x2="204.3" y2="186.7" stroke="#111" stroke-width="1"/>
<text x="195.6" y="186.51" font-size="8.2" text-anchor="middle" font-weight="bold" fill="#111">*</text>
<text x="196.4" y="232" font-size="6.8" text-anchor="middle" font-weight="normal" fill="#222" textLength="15" lengthAdjust="spacingAndGlyphs" stroke="#222" stroke-width="0.22">Basal</text>
<text x="237.7" y="232" font-size="6.8" text-anchor="middle" font-weight="normal" fill="#222" textLength="27" lengthAdjust="spacingAndGlyphs" stroke="#222" stroke-width="0.22">Thrombin</text>
<text x="157.6" y="192.8" font-size="8.4" text-anchor="middle" font-weight="normal" fill="#222" textLength="40.5" lengthAdjust="spacingAndGlyphs" transform="rotate(-90 157.6 192.8)" stroke="#222" stroke-width="0.22">F-actin (MFI)</text>
<text x="321.9" y="230.8" font-size="11.8" text-anchor="start" font-weight="bold" fill="#000" textLength="6.2" lengthAdjust="spacingAndGlyphs" stroke="#000" stroke-width="0.45">F</text>
<line x1="358.6" y1="240.8" x2="358.6" y2="299.1" stroke="#111" stroke-width="1.4"/>
<line x1="357.90000000000003" y1="298.5" x2="440.5" y2="298.5" stroke="#111" stroke-width="1.4"/>
<line x1="355.3" y1="298.5" x2="358.6" y2="298.5" stroke="#111" stroke-width="1"/>
<text x="352.4" y="300.7" font-size="7" text-anchor="end" font-weight="normal" fill="#222" textLength="9.0" lengthAdjust="spacingAndGlyphs" stroke="#222" stroke-width="0.22">0.0</text>
<line x1="355.3" y1="284.8" x2="358.6" y2="284.8" stroke="#111" stroke-width="1"/>
<text x="352.4" y="287.0" font-size="7" text-anchor="end" font-weight="normal" fill="#222" textLength="9.0" lengthAdjust="spacingAndGlyphs" stroke="#222" stroke-width="0.22">0.5</text>
<line x1="355.3" y1="271.1" x2="358.6" y2="271.1" stroke="#111" stroke-width="1"/>
<text x="352.4" y="273.3" font-size="7" text-anchor="end" font-weight="normal" fill="#222" textLength="9.0" lengthAdjust="spacingAndGlyphs" stroke="#222" stroke-width="0.22">1.0</text>
<line x1="355.3" y1="257.4" x2="358.6" y2="257.4" stroke="#111" stroke-width="1"/>
<text x="352.4" y="259.59999999999997" font-size="7" text-anchor="end" font-weight="normal" fill="#222" textLength="9.0" lengthAdjust="spacingAndGlyphs" stroke="#222" stroke-width="0.22">1.5</text>
<line x1="355.3" y1="243.7" x2="358.6" y2="243.7" stroke="#111" stroke-width="1"/>
<text x="352.4" y="245.89999999999998" font-size="7" text-anchor="end" font-weight="normal" fill="#222" textLength="9.0" lengthAdjust="spacingAndGlyphs" stroke="#222" stroke-width="0.22">2.0</text>
<rect x="368.8" y="253.29000000000002" width="20.30000000000001" height="45.20999999999998" fill="#aa0a2c"/>
<rect x="369.05" y="253.54000000000002" width="19.80000000000001" height="44.95999999999998" fill="none" stroke="#7a0620" stroke-width="0.5"/>
<line x1="378.95" y1="253.29000000000002" x2="378.95" y2="250.002" stroke="#111" stroke-width="1.0"/>
<line x1="375.45" y1="250.002" x2="382.45" y2="250.002" stroke="#111" stroke-width="1.0"/>
<rect x="409.8" y="270.004" width="20.30000000000001" height="28.49599999999998" fill="#2c4a83"/>
<rect x="410.05" y="270.254" width="19.80000000000001" height="28.24599999999998" fill="none" stroke="#1a2f58" stroke-width="0.5"/>
<line x1="419.95" y1="270.004" x2="419.95" y2="268.908" stroke="#111" stroke-width="1.0"/>
<line x1="416.45" y1="268.908" x2="423.45" y2="268.908" stroke="#111" stroke-width="1.0"/>
<line x1="378.95" y1="298.5" x2="378.95" y2="301.7" stroke="#111" stroke-width="1"/>
<line x1="419.95" y1="298.5" x2="419.95" y2="301.7" stroke="#111" stroke-width="1"/>
<line x1="376" y1="244.4" x2="424" y2="244.4" stroke="#111" stroke-width="1"/>
<text x="400" y="244.81" font-size="8.2" text-anchor="middle" font-weight="bold" fill="#111" textLength="7" lengthAdjust="spacingAndGlyphs">**</text>
<text x="378.95" y="311.2" font-size="7.0" text-anchor="middle" font-weight="normal" fill="#222" textLength="20.5" lengthAdjust="spacingAndGlyphs" stroke="#222" stroke-width="0.22">Control</text>
<text x="417.3" y="311.2" font-size="7.0" text-anchor="middle" font-weight="normal" fill="#222" textLength="19.5" lengthAdjust="spacingAndGlyphs" stroke="#222" stroke-width="0.22">Nbeal2</text>
<text x="427.6" y="307.0" font-size="3.5" text-anchor="start" font-weight="normal" fill="#444">-/-</text>
<text x="328.2" y="269.2" font-size="8.4" text-anchor="middle" font-weight="normal" fill="#222" textLength="21" lengthAdjust="spacingAndGlyphs" transform="rotate(-90 328.2 269.2)" stroke="#222" stroke-width="0.22">F-actin</text>
<text x="338.0" y="269.8" font-size="8.4" text-anchor="middle" font-weight="normal" fill="#222" textLength="68" lengthAdjust="spacingAndGlyphs" transform="rotate(-90 338.0 269.8)" stroke="#222" stroke-width="0.22">(relative MFI increase)</text>
<text x="321.5" y="324.2" font-size="11.8" text-anchor="start" font-weight="bold" fill="#000" textLength="8.1" lengthAdjust="spacingAndGlyphs" stroke="#000" stroke-width="0.45">H</text>
<line x1="358.6" y1="329.2" x2="358.6" y2="409.5" stroke="#111" stroke-width="1.4"/>
<line x1="357.90000000000003" y1="408.9" x2="472.6" y2="408.9" stroke="#111" stroke-width="1.4"/>
<line x1="355.3" y1="408.9" x2="358.6" y2="408.9" stroke="#111" stroke-width="1"/>
<text x="352.4" y="411.4" font-size="7" text-anchor="end" font-weight="normal" fill="#222" textLength="3.45" lengthAdjust="spacingAndGlyphs" stroke="#222" stroke-width="0.22">0</text>
<line x1="355.3" y1="389.78" x2="358.6" y2="389.78" stroke="#111" stroke-width="1"/>
<text x="352.4" y="392.28" font-size="7" text-anchor="end" font-weight="normal" fill="#222" textLength="6.9" lengthAdjust="spacingAndGlyphs" stroke="#222" stroke-width="0.22">25</text>
<line x1="355.3" y1="370.65999999999997" x2="358.6" y2="370.65999999999997" stroke="#111" stroke-width="1"/>
<text x="352.4" y="373.15999999999997" font-size="7" text-anchor="end" font-weight="normal" fill="#222" textLength="6.9" lengthAdjust="spacingAndGlyphs" stroke="#222" stroke-width="0.22">50</text>
<line x1="355.3" y1="351.53999999999996" x2="358.6" y2="351.53999999999996" stroke="#111" stroke-width="1"/>
<text x="352.4" y="354.03999999999996" font-size="7" text-anchor="end" font-weight="normal" fill="#222" textLength="6.9" lengthAdjust="spacingAndGlyphs" stroke="#222" stroke-width="0.22">75</text>
<line x1="355.3" y1="332.41999999999996" x2="358.6" y2="332.41999999999996" stroke="#111" stroke-width="1"/>
<text x="352.4" y="334.91999999999996" font-size="7" text-anchor="end" font-weight="normal" fill="#222" textLength="10.350000000000001" lengthAdjust="spacingAndGlyphs" stroke="#222" stroke-width="0.22">100</text>
<rect x="363.8" y="355.364" width="8.5" height="53.536" fill="#aa0a2c"/>
<rect x="364.05" y="355.614" width="8.0" height="53.286" fill="none" stroke="#7a0620" stroke-width="0.5"/>
<line x1="368.05" y1="355.364" x2="368.05" y2="354.2168" stroke="#111" stroke-width="1.0"/>
<line x1="365.65000000000003" y1="354.2168" x2="370.45" y2="354.2168" stroke="#111" stroke-width="1.0"/>
<rect x="373.5" y="389.78" width="8.5" height="19.120000000000005" fill="#2c4a83"/>
<rect x="373.75" y="390.03" width="8.0" height="18.870000000000005" fill="none" stroke="#1a2f58" stroke-width="0.5"/>
<line x1="377.75" y1="389.78" x2="377.75" y2="387.868" stroke="#111" stroke-width="1.0"/>
<line x1="375.35" y1="387.868" x2="380.15" y2="387.868" stroke="#111" stroke-width="1.0"/>
<rect x="391.8" y="385.95599999999996" width="8.599999999999966" height="22.944000000000017" fill="#aa0a2c"/>
<rect x="392.05" y="386.20599999999996" width="8.099999999999966" height="22.694000000000017" fill="none" stroke="#7a0620" stroke-width="0.5"/>
<line x1="396.1" y1="385.95599999999996" x2="396.1" y2="384.80879999999996" stroke="#111" stroke-width="1.0"/>
<line x1="393.70000000000005" y1="384.80879999999996" x2="398.5" y2="384.80879999999996" stroke="#111" stroke-width="1.0"/>
<rect x="402" y="352.3048" width="8.5" height="56.59519999999998" fill="#2c4a83"/>
<rect x="402.25" y="352.5548" width="8.0" height="56.34519999999998" fill="none" stroke="#1a2f58" stroke-width="0.5"/>
<line x1="406.25" y1="352.3048" x2="406.25" y2="350.39279999999997" stroke="#111" stroke-width="1.0"/>
<line x1="403.85" y1="350.39279999999997" x2="408.65" y2="350.39279999999997" stroke="#111" stroke-width="1.0"/>
<rect x="421" y="349.628" width="8.699999999999989" height="59.27199999999999" fill="#aa0a2c"/>
<rect x="421.25" y="349.878" width="8.199999999999989" height="59.02199999999999" fill="none" stroke="#7a0620" stroke-width="0.5"/>
<line x1="425.35" y1="349.628" x2="425.35" y2="348.8632" stroke="#111" stroke-width="1.0"/>
<line x1="422.95000000000005" y1="348.8632" x2="427.75" y2="348.8632" stroke="#111" stroke-width="1.0"/>
<rect x="431.1" y="385.95599999999996" width="8.5" height="22.944000000000017" fill="#2c4a83"/>
<rect x="431.35" y="386.20599999999996" width="8.0" height="22.694000000000017" fill="none" stroke="#1a2f58" stroke-width="0.5"/>
<line x1="435.35" y1="385.95599999999996" x2="435.35" y2="383.27919999999995" stroke="#111" stroke-width="1.0"/>
<line x1="432.95000000000005" y1="383.27919999999995" x2="437.75" y2="383.27919999999995" stroke="#111" stroke-width="1.0"/>
<rect x="449.5" y="391.3096" width="8.5" height="17.59039999999999" fill="#aa0a2c"/>
<rect x="449.75" y="391.5596" width="8.0" height="17.34039999999999" fill="none" stroke="#7a0620" stroke-width="0.5"/>
<line x1="453.75" y1="391.3096" x2="453.75" y2="390.54479999999995" stroke="#111" stroke-width="1.0"/>
<line x1="451.35" y1="390.54479999999995" x2="456.15" y2="390.54479999999995" stroke="#111" stroke-width="1.0"/>
<rect x="459.4" y="354.5992" width="8.400000000000034" height="54.30079999999998" fill="#2c4a83"/>
<rect x="459.65" y="354.8492" width="7.900000000000034" height="54.05079999999998" fill="none" stroke="#1a2f58" stroke-width="0.5"/>
<line x1="463.6" y1="354.5992" x2="463.6" y2="352.68719999999996" stroke="#111" stroke-width="1.0"/>
<line x1="461.20000000000005" y1="352.68719999999996" x2="466.0" y2="352.68719999999996" stroke="#111" stroke-width="1.0"/>
<line x1="372.9" y1="408.9" x2="372.9" y2="412.09999999999997" stroke="#111" stroke-width="1"/>
<line x1="401.2" y1="408.9" x2="401.2" y2="412.09999999999997" stroke="#111" stroke-width="1"/>
<line x1="430.4" y1="408.9" x2="430.4" y2="412.09999999999997" stroke="#111" stroke-width="1"/>
<line x1="458.7" y1="408.9" x2="458.7" y2="412.09999999999997" stroke="#111" stroke-width="1"/>
<line x1="362.9" y1="351.5" x2="380.9" y2="351.5" stroke="#111" stroke-width="1"/>
<text x="371.9" y="351.71" font-size="8.2" text-anchor="middle" font-weight="bold" fill="#111" textLength="10.8" lengthAdjust="spacingAndGlyphs">***</text>
<line x1="392.1" y1="348.5" x2="409.6" y2="348.5" stroke="#111" stroke-width="1"/>
<text x="400.85" y="348.71" font-size="8.2" text-anchor="middle" font-weight="bold" fill="#111" textLength="10.8" lengthAdjust="spacingAndGlyphs">***</text>
<line x1="420.4" y1="347.5" x2="437.6" y2="347.5" stroke="#111" stroke-width="1"/>
<text x="429.0" y="347.71" font-size="8.2" text-anchor="middle" font-weight="bold" fill="#111" textLength="10.8" lengthAdjust="spacingAndGlyphs">***</text>
<line x1="450" y1="351.5" x2="467.8" y2="351.5" stroke="#111" stroke-width="1"/>
<text x="458.9" y="351.71" font-size="8.2" text-anchor="middle" font-weight="bold" fill="#111" textLength="10.8" lengthAdjust="spacingAndGlyphs">***</text>
<text x="372.9" y="420.8" font-size="7.3" text-anchor="middle" font-weight="normal" fill="#222" textLength="20.6" lengthAdjust="spacingAndGlyphs" stroke="#222" stroke-width="0.22">Spread</text>
<text x="401.35" y="420.8" font-size="7.3" text-anchor="middle" font-weight="normal" fill="#222" textLength="18.9" lengthAdjust="spacingAndGlyphs" stroke="#222" stroke-width="0.22">Round</text>
<text x="430.2" y="420.8" font-size="7.3" text-anchor="middle" font-weight="normal" fill="#222" textLength="21.2" lengthAdjust="spacingAndGlyphs" stroke="#222" stroke-width="0.22">Spread</text>
<text x="458.5" y="420.8" font-size="7.3" text-anchor="middle" font-weight="normal" fill="#222" textLength="19.2" lengthAdjust="spacingAndGlyphs" stroke="#222" stroke-width="0.22">Round</text>
<line x1="360.1" y1="425.5" x2="412.7" y2="425.5" stroke="#111" stroke-width="1.1"/>
<line x1="417.8" y1="425.5" x2="470.4" y2="425.5" stroke="#111" stroke-width="1.1"/>
<text x="387.35" y="433.8" font-size="7.2" text-anchor="middle" font-weight="normal" fill="#222" textLength="56.3" lengthAdjust="spacingAndGlyphs" stroke="#222" stroke-width="0.22">0.5 U/mL Thrombin</text>
<text x="444.8" y="433.8" font-size="7.2" text-anchor="middle" font-weight="normal" fill="#222" textLength="32.8" lengthAdjust="spacingAndGlyphs" stroke="#222" stroke-width="0.22">10 &#956;M ADP</text>
<rect x="480.5" y="368.1" width="6.8" height="3.6" fill="#9a0a2a"/>
<rect x="480.5" y="377.2" width="6.8" height="3.8" fill="#273f6c"/>
<text x="490.6" y="372.0" font-size="6.2" text-anchor="start" font-weight="normal" fill="#222" textLength="18.8" lengthAdjust="spacingAndGlyphs" stroke="#222" stroke-width="0.22">Control</text>
<text x="491.0" y="381.5" font-size="6.2" text-anchor="start" font-weight="normal" fill="#222" textLength="16.3" lengthAdjust="spacingAndGlyphs" stroke="#222" stroke-width="0.22">Nbeal2</text>
<text x="507.6" y="378.4" font-size="3.4" text-anchor="start" font-weight="normal" fill="#444" textLength="4" lengthAdjust="spacingAndGlyphs">-/-</text>
<text x="336.3" y="370.7" font-size="7.6" text-anchor="middle" font-weight="normal" fill="#222" textLength="67" lengthAdjust="spacingAndGlyphs" transform="rotate(-90 336.3 370.7)" stroke="#222" stroke-width="0.22">Percentage of platelets</text>
<text x="8.6" y="255.3" font-size="11.8" text-anchor="start" font-weight="bold" fill="#000" textLength="8.6" lengthAdjust="spacingAndGlyphs" stroke="#000" stroke-width="0.45">G</text>
<rect x="28" y="255.2" width="89.2" height="88.6" fill="#1c1c1c" stroke="#0f0f0f" stroke-width="0.8"/>
<rect x="120.1" y="255.2" width="87.7" height="88.6" fill="#1a1a1a" stroke="#0f0f0f" stroke-width="0.8"/>
<rect x="210.2" y="255.2" width="69.6" height="88.6" fill="#1a1a1a" stroke="#0f0f0f" stroke-width="0.8"/>
<rect x="28" y="346" width="89.2" height="87.8" fill="#1c1c1c" stroke="#0f0f0f" stroke-width="0.8"/>
<rect x="120.1" y="346" width="87.7" height="87.8" fill="#191919" stroke="#0f0f0f" stroke-width="0.8"/>
<rect x="210.2" y="346" width="69.6" height="87.8" fill="#1a1a1a" stroke="#0f0f0f" stroke-width="0.8"/>
<text x="23.9" y="300.6" font-size="7.2" text-anchor="middle" font-weight="normal" fill="#222" textLength="23.3" lengthAdjust="spacingAndGlyphs" transform="rotate(-90 23.9 300.6)" stroke="#222" stroke-width="0.22">Control</text>
<text x="23.9" y="394.4" font-size="7.2" text-anchor="middle" font-weight="normal" fill="#222" textLength="21.3" lengthAdjust="spacingAndGlyphs" transform="rotate(-90 23.9 394.4)" stroke="#222" stroke-width="0.22">Nbeal2</text>
<text x="19.2" y="382.8" font-size="3.6" text-anchor="start" font-weight="normal" fill="#444" textLength="5.5" lengthAdjust="spacingAndGlyphs" transform="rotate(-90 19.2 382.8)">-/-</text>
<g filter="url(#blur05)">
</g><g filter="url(#blur07)">
<path d="M69.21,265.14 Q68.25,265.28 67.83,264.68 Q67.41,264.07 67.57,263.41 Q67.73,262.75 68.65,262.68 Q69.57,262.60 70.23,263.05 Q70.89,263.50 70.53,264.25 Q70.17,265.01 69.21,265.14Z" fill="rgb(96,96,96)" stroke="rgb(176,176,176)" stroke-width="0.9"/>
<path d="M69.50,270.47 Q69.40,271.33 68.33,271.61 Q67.25,271.89 66.73,271.44 Q66.20,270.98 66.44,269.90 Q66.67,268.81 67.44,268.76 Q68.21,268.70 68.91,269.15 Q69.61,269.60 69.50,270.47Z" fill="rgb(90,90,90)" stroke="rgb(198,198,198)" stroke-width="0.9"/>
<path d="M100.82,268.15 Q101.14,269.61 100.23,269.87 Q99.32,270.13 98.11,269.98 Q96.89,269.82 97.11,268.50 Q97.33,267.18 98.14,266.23 Q98.94,265.29 99.72,265.99 Q100.50,266.69 100.82,268.15Z" fill="rgb(74,74,74)" stroke="rgb(155,155,155)" stroke-width="0.9"/>
<path d="M114.26,272.28 Q113.65,272.94 112.50,273.00 Q111.34,273.06 111.30,272.13 Q111.26,271.21 111.57,270.36 Q111.88,269.51 113.01,269.67 Q114.14,269.83 114.51,270.73 Q114.88,271.63 114.26,272.28Z" fill="rgb(90,90,90)" stroke="rgb(184,184,184)" stroke-width="0.9"/>
<path d="M56.34,281.73 Q55.64,282.40 54.65,282.45 Q53.65,282.50 53.20,281.85 Q52.75,281.21 53.69,279.99 Q54.62,278.77 55.59,279.16 Q56.56,279.55 56.80,280.31 Q57.04,281.07 56.34,281.73Z" fill="rgb(81,81,81)" stroke="rgb(156,156,156)" stroke-width="0.9"/>
<path d="M66.56,285.60 Q65.74,284.87 65.98,283.47 Q66.23,282.08 67.40,282.01 Q68.57,281.94 69.12,282.94 Q69.67,283.94 69.49,285.41 Q69.30,286.88 68.34,286.60 Q67.38,286.33 66.56,285.60Z" fill="rgb(80,80,80)" stroke="rgb(197,197,197)" stroke-width="0.9"/>
<path d="M73.78,286.00 Q72.44,284.89 72.71,283.81 Q72.99,282.73 73.65,282.09 Q74.30,281.45 75.64,282.35 Q76.97,283.26 77.07,284.64 Q77.17,286.03 76.14,286.56 Q75.12,287.10 73.78,286.00Z" fill="rgb(98,98,98)" stroke="rgb(155,155,155)" stroke-width="0.9"/>
<path d="M93.48,286.22 Q92.62,286.72 91.75,286.32 Q90.89,285.91 90.80,285.14 Q90.72,284.37 91.55,283.87 Q92.38,283.37 93.44,283.71 Q94.49,284.05 94.41,284.89 Q94.33,285.72 93.48,286.22Z" fill="rgb(76,76,76)" stroke="rgb(175,175,175)" stroke-width="0.9"/>
<circle cx="107.6" cy="290.6" r="1.10" fill="#d0d0d0"/>
<path d="M60.52,298.59 Q59.28,298.42 58.42,297.55 Q57.57,296.69 58.25,295.91 Q58.93,295.12 60.24,295.54 Q61.55,295.96 62.25,296.75 Q62.94,297.55 62.35,298.16 Q61.77,298.77 60.52,298.59Z" fill="rgb(91,91,91)" stroke="rgb(173,173,173)" stroke-width="0.9"/>
<circle cx="103.3" cy="303.5" r="1.02" fill="#d0d0d0"/>
<circle cx="43.2" cy="309.9" r="0.85" fill="#d0d0d0"/>
<path d="M54.88,315.93 Q53.73,315.63 53.48,314.65 Q53.22,313.67 53.52,313.10 Q53.82,312.52 55.03,312.55 Q56.23,312.58 56.75,313.74 Q57.27,314.89 56.65,315.56 Q56.02,316.23 54.88,315.93Z" fill="rgb(80,80,80)" stroke="rgb(192,192,192)" stroke-width="0.9"/>
<path d="M75.60,316.43 Q74.96,317.30 73.49,317.19 Q72.02,317.09 72.14,316.15 Q72.26,315.21 72.99,314.48 Q73.71,313.75 74.81,313.91 Q75.90,314.08 76.08,314.82 Q76.25,315.57 75.60,316.43Z" fill="rgb(81,81,81)" stroke="rgb(193,193,193)" stroke-width="0.9"/>
<path d="M99.76,309.71 Q99.59,310.85 98.45,311.72 Q97.30,312.59 96.83,311.79 Q96.36,310.99 96.43,309.78 Q96.50,308.57 97.36,308.03 Q98.22,307.49 99.07,308.03 Q99.93,308.57 99.76,309.71Z" fill="rgb(91,91,91)" stroke="rgb(194,194,194)" stroke-width="0.9"/>
<path d="M100.05,314.65 Q99.34,315.40 98.62,315.46 Q97.91,315.52 97.75,314.83 Q97.60,314.15 98.03,313.32 Q98.46,312.50 99.58,312.38 Q100.71,312.26 100.74,313.08 Q100.77,313.90 100.05,314.65Z" fill="rgb(72,72,72)" stroke="rgb(183,183,183)" stroke-width="0.9"/>
<path d="M103.85,316.49 Q103.02,316.87 102.21,316.35 Q101.40,315.84 101.46,315.02 Q101.53,314.20 102.53,313.90 Q103.53,313.60 104.25,314.12 Q104.97,314.64 104.82,315.38 Q104.67,316.12 103.85,316.49Z" fill="rgb(87,87,87)" stroke="rgb(180,180,180)" stroke-width="0.9"/>
<circle cx="112.9" cy="309.9" r="1.10" fill="#d0d0d0"/>
<path d="M87.65,321.17 Q87.32,322.06 86.28,322.17 Q85.24,322.28 84.64,321.68 Q84.04,321.07 84.60,320.11 Q85.15,319.15 86.05,319.00 Q86.95,318.85 87.46,319.57 Q87.97,320.28 87.65,321.17Z" fill="rgb(75,75,75)" stroke="rgb(192,192,192)" stroke-width="0.9"/>
<path d="M73.57,322.37 Q72.96,321.44 73.48,320.63 Q73.99,319.81 74.86,319.64 Q75.73,319.47 75.93,320.58 Q76.12,321.69 75.86,322.49 Q75.61,323.28 74.89,323.29 Q74.17,323.30 73.57,322.37Z" fill="rgb(73,73,73)" stroke="rgb(200,200,200)" stroke-width="0.9"/>
<path d="M96.80,318.09 Q96.51,317.03 96.90,316.27 Q97.29,315.51 97.91,315.69 Q98.54,315.86 98.97,316.83 Q99.40,317.80 98.89,318.24 Q98.38,318.68 97.73,318.91 Q97.09,319.15 96.80,318.09Z" fill="rgb(97,97,97)" stroke="rgb(199,199,199)" stroke-width="0.9"/>
<path d="M39.65,325.20 Q39.37,326.41 38.08,326.74 Q36.78,327.07 36.08,326.47 Q35.38,325.87 36.15,324.53 Q36.91,323.19 37.86,323.09 Q38.81,322.98 39.37,323.48 Q39.93,323.99 39.65,325.20Z" fill="rgb(85,85,85)" stroke="rgb(194,194,194)" stroke-width="0.9"/>
<path d="M54.32,324.19 Q53.80,325.15 53.05,325.93 Q52.30,326.72 51.76,325.72 Q51.22,324.71 51.48,323.57 Q51.74,322.43 52.75,322.13 Q53.76,321.83 54.30,322.53 Q54.84,323.23 54.32,324.19Z" fill="rgb(79,79,79)" stroke="rgb(151,151,151)" stroke-width="0.9"/>
<path d="M55.95,329.40 Q54.83,330.31 54.11,329.62 Q53.40,328.93 53.23,328.22 Q53.07,327.52 53.98,327.09 Q54.90,326.66 55.81,326.73 Q56.72,326.81 56.89,327.66 Q57.07,328.50 55.95,329.40Z" fill="rgb(100,100,100)" stroke="rgb(155,155,155)" stroke-width="0.9"/>
<path d="M34.04,329.86 Q32.75,330.01 31.83,329.37 Q30.91,328.73 31.29,327.75 Q31.67,326.77 32.81,326.46 Q33.95,326.14 34.96,326.84 Q35.97,327.53 35.64,328.62 Q35.32,329.70 34.04,329.86Z" fill="rgb(98,98,98)" stroke="rgb(187,187,187)" stroke-width="0.9"/>
<path d="M46.91,334.88 Q45.96,335.20 45.39,334.43 Q44.81,333.66 44.95,332.97 Q45.09,332.27 45.85,332.01 Q46.61,331.75 47.30,332.42 Q47.99,333.10 47.93,333.84 Q47.87,334.57 46.91,334.88Z" fill="rgb(96,96,96)" stroke="rgb(150,150,150)" stroke-width="0.9"/>
<path d="M59.91,334.53 Q58.83,335.44 57.88,335.76 Q56.92,336.09 56.25,335.33 Q55.58,334.57 56.61,333.54 Q57.64,332.50 58.66,332.21 Q59.68,331.92 60.33,332.78 Q60.99,333.63 59.91,334.53Z" fill="rgb(93,93,93)" stroke="rgb(163,163,163)" stroke-width="0.9"/>
<path d="M97.48,331.31 Q96.86,330.28 97.49,329.33 Q98.13,328.38 98.82,327.98 Q99.51,327.59 100.15,328.84 Q100.79,330.10 100.36,331.13 Q99.93,332.17 99.01,332.25 Q98.10,332.33 97.48,331.31Z" fill="rgb(87,87,87)" stroke="rgb(194,194,194)" stroke-width="0.9"/>
<path d="M104.41,333.36 Q104.31,334.10 103.64,334.55 Q102.96,335.01 102.43,334.77 Q101.90,334.53 102.11,333.64 Q102.31,332.75 102.99,332.07 Q103.67,331.39 104.09,332.00 Q104.51,332.61 104.41,333.36Z" fill="rgb(95,95,95)" stroke="rgb(158,158,158)" stroke-width="0.9"/>
<path d="M111.35,326.38 Q110.32,325.73 110.23,324.63 Q110.15,323.53 110.87,323.17 Q111.58,322.80 112.77,323.24 Q113.95,323.68 113.96,324.83 Q113.96,325.99 113.17,326.50 Q112.39,327.02 111.35,326.38Z" fill="rgb(74,74,74)" stroke="rgb(172,172,172)" stroke-width="0.9"/>
<path d="M70.53,340.41 Q69.85,339.62 69.50,338.81 Q69.15,338.00 69.90,337.62 Q70.65,337.24 71.60,337.60 Q72.54,337.96 72.62,339.06 Q72.71,340.16 71.96,340.68 Q71.21,341.20 70.53,340.41Z" fill="rgb(97,97,97)" stroke="rgb(168,168,168)" stroke-width="0.9"/>
<circle cx="31.4" cy="336.7" r="1.27" fill="#d0d0d0"/>
<path d="M116.57,327.75 Q116.28,328.59 115.65,329.56 Q115.02,330.53 114.19,329.99 Q113.36,329.46 113.43,328.49 Q113.50,327.52 114.38,326.77 Q115.26,326.02 116.06,326.47 Q116.86,326.91 116.57,327.75Z" fill="rgb(78,78,78)" stroke="rgb(159,159,159)" stroke-width="0.9"/>
<circle cx="92.6" cy="256.3" r="1.27" fill="#d0d0d0"/>
<path d="M52.12,357.75 Q50.79,357.28 50.28,355.58 Q49.78,353.87 51.17,353.59 Q52.56,353.31 53.81,354.12 Q55.07,354.93 55.07,355.94 Q55.08,356.95 54.27,357.58 Q53.46,358.22 52.12,357.75Z" fill="rgb(83,83,83)" stroke="rgb(187,187,187)" stroke-width="0.9"/>
<path d="M86.43,353.94 Q85.19,353.36 84.97,351.92 Q84.76,350.48 85.67,349.92 Q86.58,349.36 87.90,350.31 Q89.22,351.26 89.46,352.72 Q89.70,354.18 88.69,354.35 Q87.68,354.53 86.43,353.94Z" fill="rgb(82,82,82)" stroke="rgb(198,198,198)" stroke-width="0.9"/>
<path d="M37.51,365.62 Q36.76,366.09 35.82,365.58 Q34.87,365.07 35.06,364.34 Q35.25,363.61 35.96,363.38 Q36.66,363.15 37.54,363.43 Q38.41,363.71 38.33,364.43 Q38.25,365.15 37.51,365.62Z" fill="rgb(73,73,73)" stroke="rgb(151,151,151)" stroke-width="0.9"/>
<path d="M66.79,362.47 Q66.62,361.49 66.83,360.48 Q67.04,359.46 67.95,359.77 Q68.86,360.08 69.13,361.00 Q69.40,361.91 68.96,362.57 Q68.52,363.22 67.74,363.34 Q66.96,363.45 66.79,362.47Z" fill="rgb(91,91,91)" stroke="rgb(155,155,155)" stroke-width="0.9"/>
<path d="M80.55,364.17 Q79.85,362.89 80.31,361.98 Q80.78,361.06 81.62,360.87 Q82.46,360.68 82.98,361.69 Q83.49,362.70 83.30,363.66 Q83.11,364.61 82.18,365.03 Q81.25,365.45 80.55,364.17Z" fill="rgb(85,85,85)" stroke="rgb(177,177,177)" stroke-width="0.9"/>
<circle cx="85" cy="367.7" r="0.94" fill="#d0d0d0"/>
<path d="M99.35,377.83 Q96.50,377.48 95.85,375.71 Q95.19,373.95 96.21,372.11 Q97.23,370.27 98.91,370.85 Q100.59,371.44 101.87,373.40 Q103.16,375.36 102.68,376.77 Q102.20,378.18 99.35,377.83Z" fill="rgb(90,90,90)" stroke="rgb(183,183,183)" stroke-width="0.9"/>
<circle cx="63.6" cy="371" r="1.27" fill="#d0d0d0"/>
<path d="M81.71,381.60 Q81.27,380.66 81.36,379.93 Q81.46,379.21 82.30,378.93 Q83.14,378.65 83.47,379.66 Q83.80,380.66 83.59,381.27 Q83.39,381.88 82.77,382.21 Q82.16,382.53 81.71,381.60Z" fill="rgb(75,75,75)" stroke="rgb(151,151,151)" stroke-width="0.9"/>
<circle cx="34.7" cy="382.3" r="0.85" fill="#d0d0d0"/>
<path d="M59.58,387.57 Q58.65,387.51 58.11,386.72 Q57.57,385.93 57.87,385.47 Q58.17,385.02 58.91,384.93 Q59.65,384.84 60.47,385.29 Q61.30,385.74 60.91,386.68 Q60.51,387.63 59.58,387.57Z" fill="rgb(88,88,88)" stroke="rgb(184,184,184)" stroke-width="0.9"/>
<path d="M80.00,386.66 Q79.33,387.23 78.63,387.12 Q77.94,387.01 77.87,386.47 Q77.81,385.92 78.27,385.46 Q78.74,385.00 79.56,384.91 Q80.38,384.83 80.53,385.46 Q80.68,386.10 80.00,386.66Z" fill="rgb(85,85,85)" stroke="rgb(181,181,181)" stroke-width="0.9"/>
<path d="M93.75,386.78 Q93.57,387.78 93.03,388.35 Q92.48,388.93 91.97,388.51 Q91.46,388.09 91.36,387.13 Q91.26,386.16 91.88,385.96 Q92.51,385.75 93.22,385.77 Q93.93,385.78 93.75,386.78Z" fill="rgb(84,84,84)" stroke="rgb(152,152,152)" stroke-width="0.9"/>
<circle cx="34.7" cy="399.9" r="1.27" fill="#d0d0d0"/>
<circle cx="34.7" cy="407.4" r="1.27" fill="#d0d0d0"/>
<path d="M110.64,399.39 Q110.63,400.58 109.76,401.81 Q108.88,403.04 107.96,402.16 Q107.04,401.28 106.63,400.20 Q106.22,399.13 107.29,397.95 Q108.35,396.77 109.50,397.49 Q110.66,398.20 110.64,399.39Z" fill="rgb(83,83,83)" stroke="rgb(176,176,176)" stroke-width="0.9"/>
<circle cx="106.5" cy="397.3" r="1.27" fill="#d0d0d0"/>
<circle cx="112.9" cy="398.8" r="1.27" fill="#d0d0d0"/>
<circle cx="42.2" cy="417.1" r="1.10" fill="#d0d0d0"/>
<path d="M46.07,422.23 Q44.83,420.73 45.14,419.31 Q45.46,417.89 46.83,417.83 Q48.20,417.77 49.11,418.89 Q50.02,420.01 49.39,421.07 Q48.77,422.13 48.04,422.93 Q47.31,423.73 46.07,422.23Z" fill="rgb(99,99,99)" stroke="rgb(163,163,163)" stroke-width="0.9"/>
<path d="M80.93,423.00 Q79.42,425.16 77.63,426.18 Q75.84,427.19 74.58,425.40 Q73.32,423.62 73.93,421.53 Q74.54,419.44 76.90,417.99 Q79.26,416.54 80.85,418.69 Q82.44,420.83 80.93,423.00Z" fill="rgb(86,86,86)" stroke="rgb(185,185,185)" stroke-width="0.9"/>
<circle cx="105.4" cy="417.1" r="1.27" fill="#d0d0d0"/>
<path d="M90.40,428.93 Q89.69,428.17 89.68,427.50 Q89.67,426.83 90.31,426.38 Q90.95,425.93 91.47,426.61 Q91.99,427.28 92.02,427.90 Q92.05,428.52 91.58,429.11 Q91.11,429.69 90.40,428.93Z" fill="rgb(72,72,72)" stroke="rgb(180,180,180)" stroke-width="0.9"/>
<circle cx="86.1" cy="430" r="0.94" fill="#d0d0d0"/>
<path d="M28.23,354.70 Q27.76,354.16 27.55,353.29 Q27.34,352.42 27.97,352.34 Q28.59,352.27 29.22,352.80 Q29.85,353.33 30.03,354.31 Q30.21,355.28 29.45,355.26 Q28.70,355.24 28.23,354.70Z" fill="rgb(78,78,78)" stroke="rgb(163,163,163)" stroke-width="0.9"/>
</g><g filter="url(#blur05)">
<ellipse cx="146.0" cy="257.5" rx="2.5" ry="2.0" fill="#e4e4e4"/>
<path d="M187.8,258.2 L197.5,255.2 L198.5,264 L192.8,268Z" fill="#6a6a6a" stroke="#c0c0c0" stroke-width="0.8"/>
<line x1="188.80" y1="260.02" x2="191.01" y2="260.05" stroke="#a0a0a0" stroke-width="0.5"/>
<line x1="194.88" y1="261.65" x2="195.20" y2="265.02" stroke="#a0a0a0" stroke-width="0.5"/>
<line x1="193.10" y1="264.00" x2="192.47" y2="265.74" stroke="#a0a0a0" stroke-width="0.5"/>
<line x1="193.76" y1="260.38" x2="193.54" y2="262.40" stroke="#a0a0a0" stroke-width="0.5"/>
<path d="M174.08,269.98 Q176.27,272.87 175.27,276.49 Q174.28,280.10 171.46,278.39 Q168.65,276.68 168.20,272.97 Q167.76,269.25 169.82,268.16 Q171.89,267.08 174.08,269.98Z" fill="#444" stroke="#d0d0d0" stroke-width="0.85"/>
<line x1="172.78" y1="273.61" x2="173.34" y2="275.53" stroke="#999" stroke-width="0.5"/>
<line x1="172.20" y1="275.32" x2="173.02" y2="278.85" stroke="#999" stroke-width="0.5"/>
<line x1="168.20" y1="272.86" x2="170.41" y2="274.47" stroke="#999" stroke-width="0.5"/>
<path d="M157.89,281.02 Q158.24,284.53 156.18,286.30 Q154.12,288.06 152.82,286.05 Q151.52,284.04 152.09,281.77 Q152.66,279.51 155.09,278.52 Q157.53,277.52 157.89,281.02Z" fill="#444" stroke="#d0d0d0" stroke-width="0.85"/>
<line x1="152.70" y1="283.58" x2="152.07" y2="285.51" stroke="#999" stroke-width="0.5"/>
<line x1="157.24" y1="282.32" x2="154.64" y2="283.88" stroke="#999" stroke-width="0.5"/>
<line x1="155.24" y1="283.38" x2="156.06" y2="284.92" stroke="#999" stroke-width="0.5"/>
<path d="M141.72,282.36 Q145.01,285.05 142.23,287.24 Q139.46,289.42 136.21,289.87 Q132.97,290.32 133.59,287.28 Q134.21,284.25 136.32,281.96 Q138.43,279.68 141.72,282.36Z" fill="#363636" stroke="#d0d0d0" stroke-width="0.85"/>
<path d="M189.60,299.65 Q189.85,302.59 187.21,304.07 Q184.58,305.55 182.19,303.32 Q179.80,301.09 181.53,299.12 Q183.26,297.16 186.31,296.93 Q189.35,296.71 189.60,299.65Z" fill="#444" stroke="#d0d0d0" stroke-width="0.85"/>
<line x1="185.38" y1="300.03" x2="185.07" y2="302.76" stroke="#999" stroke-width="0.5"/>
<line x1="189.15" y1="298.74" x2="186.37" y2="298.95" stroke="#999" stroke-width="0.5"/>
<line x1="181.59" y1="300.17" x2="184.56" y2="302.76" stroke="#999" stroke-width="0.5"/>
<path d="M144.16,308.83 Q145.92,312.33 143.02,313.87 Q140.12,315.42 137.19,312.87 Q134.25,310.32 134.44,307.78 Q134.63,305.24 138.52,305.29 Q142.40,305.34 144.16,308.83Z" fill="#363636" stroke="#d0d0d0" stroke-width="0.85"/>
<path d="M167.25,311.43 Q168.71,313.04 166.71,315.41 Q164.72,317.78 162.86,316.47 Q161.00,315.16 160.27,312.59 Q159.53,310.03 162.67,309.92 Q165.80,309.81 167.25,311.43Z" fill="#444" stroke="#d0d0d0" stroke-width="0.85"/>
<line x1="165.15" y1="313.52" x2="163.31" y2="314.43" stroke="#999" stroke-width="0.5"/>
<line x1="161.70" y1="312.56" x2="163.20" y2="315.43" stroke="#999" stroke-width="0.5"/>
<line x1="165.60" y1="309.93" x2="166.39" y2="311.72" stroke="#999" stroke-width="0.5"/>
<path d="M183.94,308.02 Q186.55,310.35 183.89,313.08 Q181.23,315.81 178.95,315.05 Q176.68,314.30 176.33,312.10 Q175.97,309.90 178.65,307.79 Q181.33,305.69 183.94,308.02Z" fill="#363636" stroke="#d0d0d0" stroke-width="0.85"/>
<path d="M134.01,324.99 Q135.09,326.64 133.31,327.99 Q131.54,329.34 128.85,329.17 Q126.16,329.00 126.94,326.50 Q127.72,324.00 130.32,323.67 Q132.92,323.34 134.01,324.99Z" fill="#444" stroke="#d0d0d0" stroke-width="0.85"/>
<line x1="132.30" y1="324.29" x2="130.09" y2="324.53" stroke="#999" stroke-width="0.5"/>
<line x1="130.96" y1="323.62" x2="132.31" y2="326.62" stroke="#999" stroke-width="0.5"/>
<line x1="132.44" y1="325.24" x2="133.78" y2="326.24" stroke="#999" stroke-width="0.5"/>
<path d="M173.24,324.34 Q174.31,327.00 172.20,328.28 Q170.09,329.57 168.19,328.35 Q166.30,327.14 167.04,324.93 Q167.77,322.71 169.98,322.20 Q172.18,321.68 173.24,324.34Z" fill="#444" stroke="#d0d0d0" stroke-width="0.85"/>
<line x1="170.26" y1="325.55" x2="168.61" y2="327.45" stroke="#999" stroke-width="0.5"/>
<line x1="167.70" y1="322.02" x2="168.68" y2="323.29" stroke="#999" stroke-width="0.5"/>
<line x1="167.91" y1="323.88" x2="168.09" y2="327.49" stroke="#999" stroke-width="0.5"/>
<path d="M162.77,328.49 Q164.37,331.68 162.65,334.69 Q160.92,337.70 158.13,336.37 Q155.34,335.04 155.70,331.35 Q156.06,327.66 158.61,326.48 Q161.17,325.30 162.77,328.49Z" fill="#444" stroke="#d0d0d0" stroke-width="0.85"/>
<line x1="158.47" y1="332.70" x2="162.17" y2="332.94" stroke="#999" stroke-width="0.5"/>
<line x1="161.80" y1="331.53" x2="159.71" y2="332.63" stroke="#999" stroke-width="0.5"/>
<line x1="160.34" y1="331.63" x2="163.33" y2="332.95" stroke="#999" stroke-width="0.5"/>
<path d="M192.62,335.06 Q194.58,337.58 190.99,339.03 Q187.40,340.48 183.48,338.24 Q179.57,336.01 181.38,334.31 Q183.20,332.61 186.93,332.57 Q190.66,332.53 192.62,335.06Z" fill="#363636" stroke="#d0d0d0" stroke-width="0.85"/>
<path d="M146.64,337.27 Q148.77,338.17 146.79,340.02 Q144.81,341.86 142.96,341.94 Q141.12,342.03 140.43,340.07 Q139.74,338.10 142.12,337.23 Q144.50,336.37 146.64,337.27Z" fill="#444" stroke="#d0d0d0" stroke-width="0.85"/>
<line x1="140.74" y1="338.71" x2="143.27" y2="338.87" stroke="#999" stroke-width="0.5"/>
<line x1="143.21" y1="337.89" x2="144.50" y2="340.37" stroke="#999" stroke-width="0.5"/>
<line x1="142.56" y1="337.92" x2="142.14" y2="340.55" stroke="#999" stroke-width="0.5"/>
<path d="M128.13,355.36 Q128.37,356.02 127.95,356.76 Q127.52,357.50 126.76,357.49 Q126.01,357.48 125.30,356.85 Q124.59,356.23 124.93,355.64 Q125.28,355.06 126.02,354.32 Q126.76,353.58 127.32,354.14 Q127.88,354.70 128.13,355.36Z" fill="#303030" stroke="#858585" stroke-width="0.8"/>
<path d="M137.68,354.62 Q137.99,355.47 137.65,355.91 Q137.31,356.36 136.31,356.71 Q135.30,357.06 134.74,356.19 Q134.18,355.32 134.38,354.52 Q134.58,353.71 135.36,353.34 Q136.14,352.97 136.76,353.37 Q137.37,353.77 137.68,354.62Z" fill="#303030" stroke="#858585" stroke-width="0.8"/>
<path d="M131.64,364.80 Q131.92,365.71 131.26,366.17 Q130.61,366.64 129.81,366.92 Q129.01,367.20 128.51,366.50 Q128.00,365.80 128.12,365.02 Q128.23,364.24 129.01,363.57 Q129.79,362.91 130.58,363.40 Q131.37,363.90 131.64,364.80Z" fill="#303030" stroke="#858585" stroke-width="0.8"/>
<path d="M148.86,373.53 Q149.16,374.36 148.65,375.20 Q148.13,376.04 147.21,376.11 Q146.28,376.19 145.41,375.56 Q144.54,374.94 144.58,373.83 Q144.61,372.72 145.49,372.01 Q146.37,371.29 147.46,372.00 Q148.56,372.70 148.86,373.53Z" fill="#303030" stroke="#858585" stroke-width="0.8"/>
<path d="M160.87,374.41 L159.70,375.88 L159.60,379.73 L157.50,380.19 L156.09,383.25 L154.46,379.71 L151.21,380.48 L153.41,375.75 L151.51,374.50 L151.38,370.76 L151.18,367.33 L153.83,367.70 L155.55,363.98 L158.16,367.45 L160.35,368.55 L159.10,371.96Z" fill="#2e2e2e" stroke="#555" stroke-width="0.5"/>
<line x1="155.50" y1="368.94" x2="153.16" y2="369.33" stroke="#8e8e8e" stroke-width="0.55"/>
<line x1="151.84" y1="379.15" x2="155.15" y2="379.67" stroke="#8e8e8e" stroke-width="0.55"/>
<line x1="154.23" y1="369.34" x2="155.31" y2="371.16" stroke="#8e8e8e" stroke-width="0.55"/>
<line x1="157.14" y1="377.46" x2="157.38" y2="379.41" stroke="#8e8e8e" stroke-width="0.55"/>
<line x1="152.39" y1="373.17" x2="155.36" y2="374.61" stroke="#8e8e8e" stroke-width="0.55"/>
<line x1="153.19" y1="372.39" x2="152.46" y2="374.94" stroke="#8e8e8e" stroke-width="0.55"/>
<line x1="154.03" y1="377.64" x2="153.86" y2="381.29" stroke="#8e8e8e" stroke-width="0.55"/>
<line x1="154.36" y1="378.58" x2="152.21" y2="378.86" stroke="#8e8e8e" stroke-width="0.55"/>
<line x1="159.41" y1="377.93" x2="156.48" y2="378.49" stroke="#8e8e8e" stroke-width="0.55"/>
<line x1="156.39" y1="376.92" x2="156.74" y2="378.53" stroke="#8e8e8e" stroke-width="0.55"/>
<line x1="151.84" y1="367.62" x2="154.71" y2="368.76" stroke="#8e8e8e" stroke-width="0.55"/>
<line x1="158.09" y1="372.28" x2="159.98" y2="372.51" stroke="#8e8e8e" stroke-width="0.55"/>
<line x1="152.08" y1="377.31" x2="154.44" y2="377.83" stroke="#8e8e8e" stroke-width="0.55"/>
<line x1="159.25" y1="375.13" x2="159.41" y2="376.69" stroke="#8e8e8e" stroke-width="0.55"/>
<path d="M192.93,391.58 Q193.10,392.16 192.59,392.67 Q192.08,393.18 190.91,393.16 Q189.74,393.13 189.38,392.66 Q189.03,392.19 188.77,391.51 Q188.52,390.83 189.84,390.64 Q191.16,390.45 191.96,390.72 Q192.75,390.99 192.93,391.58Z" fill="#303030" stroke="#858585" stroke-width="0.8"/>
<path d="M147.52,402.24 Q147.50,403.57 146.79,405.04 Q146.09,406.52 144.81,406.70 Q143.52,406.89 142.68,405.79 Q141.84,404.70 142.20,403.12 Q142.55,401.55 143.52,400.42 Q144.48,399.30 146.02,400.10 Q147.55,400.91 147.52,402.24Z" fill="#303030" stroke="#858585" stroke-width="0.8"/>
<path d="M143.42,415.81 Q143.98,417.76 142.85,420.60 Q141.73,423.45 139.02,423.26 Q136.30,423.06 134.97,420.78 Q133.63,418.50 134.06,416.20 Q134.50,413.90 136.40,412.25 Q138.31,410.60 140.59,412.22 Q142.87,413.85 143.42,415.81Z" fill="#303030" stroke="#858585" stroke-width="0.8"/>
<path d="M176.38,409.56 L174.87,411.54 L174.60,415.04 L171.66,414.55 L169.26,416.35 L168.16,413.71 L164.45,413.85 L165.10,411.51 L163.78,409.92 L165.54,407.65 L163.58,403.81 L167.89,405.49 L169.04,402.75 L171.05,405.92 L174.81,405.05 L174.64,407.48Z" fill="#2e2e2e" stroke="#555" stroke-width="0.5"/>
<line x1="171.80" y1="406.34" x2="172.70" y2="407.63" stroke="#8e8e8e" stroke-width="0.55"/>
<line x1="166.72" y1="411.04" x2="167.02" y2="412.70" stroke="#8e8e8e" stroke-width="0.55"/>
<line x1="163.54" y1="413.47" x2="166.20" y2="414.07" stroke="#8e8e8e" stroke-width="0.55"/>
<line x1="168.87" y1="407.44" x2="170.53" y2="409.09" stroke="#8e8e8e" stroke-width="0.55"/>
<line x1="170.74" y1="408.40" x2="167.17" y2="409.57" stroke="#8e8e8e" stroke-width="0.55"/>
<line x1="163.94" y1="407.27" x2="166.71" y2="407.48" stroke="#8e8e8e" stroke-width="0.55"/>
<line x1="170.01" y1="409.29" x2="172.22" y2="409.93" stroke="#8e8e8e" stroke-width="0.55"/>
<line x1="167.70" y1="411.07" x2="165.16" y2="412.77" stroke="#8e8e8e" stroke-width="0.55"/>
<line x1="170.11" y1="412.50" x2="169.39" y2="414.37" stroke="#8e8e8e" stroke-width="0.55"/>
<line x1="174.64" y1="410.27" x2="172.37" y2="411.12" stroke="#8e8e8e" stroke-width="0.55"/>
<line x1="170.14" y1="410.08" x2="169.92" y2="411.76" stroke="#8e8e8e" stroke-width="0.55"/>
<line x1="165.85" y1="408.12" x2="167.42" y2="408.22" stroke="#8e8e8e" stroke-width="0.55"/>
<line x1="172.25" y1="412.01" x2="170.49" y2="413.79" stroke="#8e8e8e" stroke-width="0.55"/>
<line x1="172.02" y1="408.46" x2="174.23" y2="408.89" stroke="#8e8e8e" stroke-width="0.55"/>
<path d="M174.87,420.44 Q175.30,421.34 174.71,422.40 Q174.12,423.45 172.88,423.45 Q171.64,423.45 170.88,422.77 Q170.12,422.09 170.47,420.86 Q170.83,419.62 171.64,419.07 Q172.46,418.52 173.44,419.03 Q174.43,419.54 174.87,420.44Z" fill="#303030" stroke="#858585" stroke-width="0.8"/>
<path d="M182.73,421.47 Q183.23,422.38 182.80,423.06 Q182.37,423.73 180.76,423.81 Q179.16,423.90 178.55,423.22 Q177.95,422.54 177.88,421.41 Q177.80,420.28 178.73,420.08 Q179.66,419.87 180.94,420.21 Q182.22,420.56 182.73,421.47Z" fill="#303030" stroke="#858585" stroke-width="0.8"/>
<path d="M229.6,265.8 L253.3,261.6 L254.6,273.6 L244.3,276.8 L237.5,271.5Z" fill="#5a5a5a" stroke="#e0e0e0" stroke-width="1.0"/>
<path d="M230.5,266 L238,271.5 L244.5,276.3" fill="none" stroke="#f4f4f4" stroke-width="1.4"/>
<line x1="244.76" y1="270.07" x2="244.81" y2="272.72" stroke="#b8b8b8" stroke-width="0.6"/>
<line x1="241.47" y1="268.94" x2="244.20" y2="271.76" stroke="#b8b8b8" stroke-width="0.6"/>
<line x1="241.67" y1="272.31" x2="244.17" y2="273.08" stroke="#b8b8b8" stroke-width="0.6"/>
<line x1="247.64" y1="272.07" x2="245.63" y2="273.14" stroke="#b8b8b8" stroke-width="0.6"/>
<line x1="246.09" y1="270.94" x2="249.11" y2="272.79" stroke="#b8b8b8" stroke-width="0.6"/>
<line x1="248.46" y1="271.65" x2="251.04" y2="273.78" stroke="#b8b8b8" stroke-width="0.6"/>
<line x1="246.07" y1="272.13" x2="244.91" y2="273.15" stroke="#b8b8b8" stroke-width="0.6"/>
<line x1="250.08" y1="270.07" x2="252.54" y2="273.11" stroke="#b8b8b8" stroke-width="0.6"/>
<line x1="242.19" y1="271.78" x2="241.72" y2="273.27" stroke="#b8b8b8" stroke-width="0.6"/>
<line x1="248.80" y1="267.32" x2="250.66" y2="267.75" stroke="#b8b8b8" stroke-width="0.6"/>
<path d="M228.3,284.8 L236.9,283.3 L253.8,293.6 L250.4,295.8 L242.3,298.1 L235.2,293.4Z" fill="#474747" stroke="#c8c8c8" stroke-width="0.9"/>
<line x1="248.67" y1="289.45" x2="248.22" y2="292.10" stroke="#d0d0d0" stroke-width="0.6"/>
<line x1="235.59" y1="285.95" x2="236.46" y2="288.57" stroke="#d0d0d0" stroke-width="0.6"/>
<line x1="246.29" y1="289.29" x2="244.52" y2="289.46" stroke="#d0d0d0" stroke-width="0.6"/>
<line x1="242.81" y1="286.62" x2="244.22" y2="287.78" stroke="#d0d0d0" stroke-width="0.6"/>
<line x1="248.96" y1="289.95" x2="248.34" y2="293.55" stroke="#d0d0d0" stroke-width="0.6"/>
<line x1="249.25" y1="289.17" x2="247.23" y2="290.11" stroke="#d0d0d0" stroke-width="0.6"/>
<line x1="243.67" y1="291.34" x2="244.85" y2="294.25" stroke="#d0d0d0" stroke-width="0.6"/>
<line x1="245.40" y1="286.94" x2="243.95" y2="288.30" stroke="#d0d0d0" stroke-width="0.6"/>
<line x1="236.43" y1="287.18" x2="238.85" y2="290.19" stroke="#d0d0d0" stroke-width="0.6"/>
<line x1="238.97" y1="292.55" x2="240.90" y2="293.44" stroke="#d0d0d0" stroke-width="0.6"/>
<line x1="234.57" y1="290.10" x2="231.80" y2="290.53" stroke="#d0d0d0" stroke-width="0.6"/>
<line x1="243.50" y1="287.95" x2="245.52" y2="288.34" stroke="#d0d0d0" stroke-width="0.6"/>
<line x1="249.92" y1="291.50" x2="246.57" y2="292.26" stroke="#d0d0d0" stroke-width="0.6"/>
<line x1="237.49" y1="287.47" x2="236.85" y2="289.21" stroke="#d0d0d0" stroke-width="0.6"/>
<path d="M237.88,313.54 L235.14,315.37 L234.57,317.84 L232.24,316.97 L230.19,319.53 L229.42,316.17 L226.16,316.25 L228.42,313.77 L226.44,311.51 L229.24,310.84 L230.42,308.87 L232.33,310.83 L234.57,309.97 L234.92,312.24Z" fill="#5e5e5e" stroke="#dcdcdc" stroke-width="0.9"/>
<path d="M237.8,315.2 L247.7,311.9 L253.3,314.6 L260.9,324.9 L251.7,332.5 L246.3,330.6 L239.0,321.2Z" fill="#4c4c4c" stroke="#d8d8d8" stroke-width="1.0"/>
<line x1="245.78" y1="320.68" x2="243.43" y2="321.86" stroke="#909090" stroke-width="0.6"/>
<line x1="244.95" y1="322.47" x2="246.64" y2="324.90" stroke="#909090" stroke-width="0.6"/>
<line x1="244.66" y1="324.38" x2="246.86" y2="324.74" stroke="#909090" stroke-width="0.6"/>
<line x1="253.82" y1="316.94" x2="254.49" y2="318.79" stroke="#909090" stroke-width="0.6"/>
<line x1="249.49" y1="322.38" x2="245.66" y2="322.93" stroke="#909090" stroke-width="0.6"/>
<line x1="246.60" y1="323.78" x2="246.82" y2="325.52" stroke="#909090" stroke-width="0.6"/>
<line x1="245.59" y1="318.28" x2="246.85" y2="322.07" stroke="#909090" stroke-width="0.6"/>
<line x1="252.89" y1="316.88" x2="252.33" y2="319.04" stroke="#909090" stroke-width="0.6"/>
<line x1="244.49" y1="325.38" x2="247.75" y2="326.08" stroke="#909090" stroke-width="0.6"/>
<line x1="252.61" y1="315.64" x2="254.70" y2="318.41" stroke="#909090" stroke-width="0.6"/>
<line x1="242.19" y1="319.39" x2="244.94" y2="321.90" stroke="#909090" stroke-width="0.6"/>
<line x1="252.15" y1="323.97" x2="253.30" y2="325.32" stroke="#909090" stroke-width="0.6"/>
<path d="M236.59,363.37 L233.66,365.55 L234.29,369.03 L230.86,368.40 L230.55,372.82 L227.45,370.40 L225.52,371.85 L223.74,369.54 L220.68,370.43 L221.85,366.69 L217.82,366.59 L219.08,363.74 L219.05,362.02 L220.46,359.94 L220.20,357.05 L223.95,358.28 L225.81,356.63 L227.78,357.80 L229.69,356.93 L231.51,358.22 L233.83,358.96 L232.57,362.05Z" fill="#6a6a6a" stroke="#c4c4c4" stroke-width="0.8"/>
<line x1="223.87" y1="363.45" x2="222.98" y2="365.48" stroke="#d4d4d4" stroke-width="0.7"/>
<line x1="223.68" y1="365.64" x2="222.98" y2="367.47" stroke="#d4d4d4" stroke-width="0.7"/>
<line x1="228.32" y1="364.29" x2="226.22" y2="367.16" stroke="#d4d4d4" stroke-width="0.7"/>
<line x1="232.48" y1="365.52" x2="229.76" y2="365.74" stroke="#d4d4d4" stroke-width="0.7"/>
<line x1="223.58" y1="367.35" x2="224.83" y2="368.74" stroke="#d4d4d4" stroke-width="0.7"/>
<line x1="224.05" y1="363.85" x2="221.77" y2="364.52" stroke="#d4d4d4" stroke-width="0.7"/>
<line x1="230.17" y1="366.66" x2="232.11" y2="368.60" stroke="#d4d4d4" stroke-width="0.7"/>
<line x1="227.97" y1="364.65" x2="227.06" y2="366.04" stroke="#d4d4d4" stroke-width="0.7"/>
<line x1="228.55" y1="359.03" x2="228.60" y2="361.86" stroke="#d4d4d4" stroke-width="0.7"/>
<line x1="222.91" y1="364.18" x2="222.46" y2="366.22" stroke="#d4d4d4" stroke-width="0.7"/>
<line x1="230.01" y1="360.02" x2="228.36" y2="360.42" stroke="#d4d4d4" stroke-width="0.7"/>
<line x1="228.69" y1="363.73" x2="230.66" y2="364.69" stroke="#d4d4d4" stroke-width="0.7"/>
<line x1="231.75" y1="363.97" x2="230.78" y2="367.09" stroke="#d4d4d4" stroke-width="0.7"/>
<line x1="224.25" y1="363.70" x2="222.15" y2="364.50" stroke="#d4d4d4" stroke-width="0.7"/>
<path d="M271.88,363.26 L265.50,364.66 L270.38,371.29 L261.21,367.19 L259.61,370.58 L255.46,370.20 L250.20,373.02 L249.97,367.67 L245.06,365.80 L250.56,362.87 L246.67,358.98 L250.97,358.25 L249.64,352.48 L255.42,355.84 L258.81,353.55 L261.21,357.96 L267.70,355.33 L263.48,360.97Z" fill="#272727" stroke="#3c3c3c" stroke-width="0.6"/>
<path d="M249.5,356.5 L257,359 L264.5,355.5 L263,364 L258,370 L252,364Z" fill="#555" stroke="#d0d0d0" stroke-width="1"/>
<path d="M216.7,395.1 L224.8,391.7 L230.2,395.8 L228.8,405.2 L224.8,407.2 L218.1,402.5Z" fill="#333" stroke="#8f8f8f" stroke-width="1.3"/>
<defs><linearGradient id="cg" x1="0" y1="1" x2="1" y2="0"><stop offset="0" stop-color="#9a9a9a"/><stop offset="1" stop-color="#5e5e5e"/></linearGradient></defs>
<path d="M232.9,420.3 C236,415 240,409 243.5,400 C246.5,393 253,390.5 259,391.2 C267,392.5 272,398 272,405 C271.5,414 265,421 255,424.5 C247,426 238,424 232.9,420.3Z" fill="url(#cg)" stroke="#b0b0b0" stroke-width="0.8"/>
<line x1="250.77" y1="407.59" x2="253.59" y2="409.50" stroke="#b4b4b4" stroke-width="0.6"/>
<line x1="245.84" y1="411.44" x2="247.02" y2="414.40" stroke="#b4b4b4" stroke-width="0.6"/>
<line x1="262.10" y1="397.65" x2="260.48" y2="397.94" stroke="#b4b4b4" stroke-width="0.6"/>
<line x1="265.76" y1="398.02" x2="263.08" y2="399.23" stroke="#b4b4b4" stroke-width="0.6"/>
<line x1="257.83" y1="411.35" x2="255.30" y2="411.56" stroke="#b4b4b4" stroke-width="0.6"/>
<line x1="264.01" y1="397.25" x2="266.03" y2="399.48" stroke="#b4b4b4" stroke-width="0.6"/>
<line x1="257.69" y1="414.35" x2="256.10" y2="415.89" stroke="#b4b4b4" stroke-width="0.6"/>
<line x1="248.17" y1="404.61" x2="251.00" y2="407.01" stroke="#b4b4b4" stroke-width="0.6"/>
<line x1="263.95" y1="408.07" x2="263.82" y2="409.59" stroke="#b4b4b4" stroke-width="0.6"/>
<line x1="261.33" y1="407.38" x2="264.19" y2="409.41" stroke="#b4b4b4" stroke-width="0.6"/>
<line x1="255.24" y1="397.32" x2="255.21" y2="399.31" stroke="#b4b4b4" stroke-width="0.6"/>
<line x1="242.51" y1="401.26" x2="241.64" y2="404.78" stroke="#b4b4b4" stroke-width="0.6"/>
<line x1="245.88" y1="404.74" x2="244.61" y2="406.24" stroke="#b4b4b4" stroke-width="0.6"/>
<line x1="264.99" y1="407.52" x2="264.19" y2="408.89" stroke="#b4b4b4" stroke-width="0.6"/>
<line x1="253.59" y1="401.25" x2="256.05" y2="402.46" stroke="#b4b4b4" stroke-width="0.6"/>
<line x1="262.74" y1="398.44" x2="261.54" y2="400.94" stroke="#b4b4b4" stroke-width="0.6"/>
<line x1="256.60" y1="401.18" x2="256.15" y2="402.75" stroke="#b4b4b4" stroke-width="0.6"/>
<line x1="247.24" y1="401.86" x2="245.75" y2="404.55" stroke="#b4b4b4" stroke-width="0.6"/>
<line x1="262.79" y1="403.39" x2="260.85" y2="403.57" stroke="#b4b4b4" stroke-width="0.6"/>
<line x1="250.32" y1="414.66" x2="252.60" y2="417.35" stroke="#b4b4b4" stroke-width="0.6"/>
<line x1="248.01" y1="397.37" x2="247.23" y2="400.92" stroke="#b4b4b4" stroke-width="0.6"/>
<line x1="259.82" y1="408.62" x2="257.50" y2="409.21" stroke="#b4b4b4" stroke-width="0.6"/>
<line x1="265.66" y1="414.34" x2="266.74" y2="415.62" stroke="#b4b4b4" stroke-width="0.6"/>
<line x1="264.62" y1="414.74" x2="264.80" y2="417.66" stroke="#b4b4b4" stroke-width="0.6"/>
<line x1="250.42" y1="413.38" x2="250.81" y2="415.86" stroke="#b4b4b4" stroke-width="0.6"/>
<line x1="253.19" y1="411.46" x2="252.47" y2="413.03" stroke="#b4b4b4" stroke-width="0.6"/>
<line x1="246.14" y1="408.85" x2="249.32" y2="410.10" stroke="#b4b4b4" stroke-width="0.6"/>
<line x1="247.97" y1="396.78" x2="249.48" y2="400.34" stroke="#b4b4b4" stroke-width="0.6"/>
<line x1="256.11" y1="397.58" x2="256.13" y2="400.46" stroke="#b4b4b4" stroke-width="0.6"/>
<line x1="242.13" y1="406.59" x2="242.03" y2="408.73" stroke="#b4b4b4" stroke-width="0.6"/>
<line x1="253.15" y1="416.21" x2="252.09" y2="418.87" stroke="#b4b4b4" stroke-width="0.6"/>
<line x1="257.17" y1="404.88" x2="257.37" y2="408.50" stroke="#b4b4b4" stroke-width="0.6"/>
<line x1="262.90" y1="401.21" x2="261.48" y2="401.93" stroke="#b4b4b4" stroke-width="0.6"/>
<line x1="258.15" y1="417.51" x2="256.72" y2="419.78" stroke="#b4b4b4" stroke-width="0.6"/>
<line x1="260.10" y1="399.86" x2="258.51" y2="402.16" stroke="#555555" stroke-width="0.6"/>
<line x1="253.70" y1="393.96" x2="254.76" y2="396.83" stroke="#555555" stroke-width="0.6"/>
<line x1="247.65" y1="400.89" x2="250.34" y2="402.94" stroke="#555555" stroke-width="0.6"/>
<line x1="263.46" y1="411.12" x2="260.31" y2="412.03" stroke="#555555" stroke-width="0.6"/>
<line x1="264.30" y1="394.96" x2="265.34" y2="396.81" stroke="#555555" stroke-width="0.6"/>
<line x1="250.00" y1="401.12" x2="249.90" y2="404.72" stroke="#555555" stroke-width="0.6"/>
<line x1="252.34" y1="401.79" x2="250.84" y2="402.36" stroke="#555555" stroke-width="0.6"/>
<line x1="245.70" y1="394.51" x2="243.06" y2="396.65" stroke="#555555" stroke-width="0.6"/>
<line x1="258.96" y1="398.61" x2="257.71" y2="399.97" stroke="#555555" stroke-width="0.6"/>
<line x1="263.74" y1="414.44" x2="262.22" y2="415.55" stroke="#555555" stroke-width="0.6"/>
<line x1="252.59" y1="400.33" x2="249.36" y2="401.21" stroke="#555555" stroke-width="0.6"/>
<line x1="252.33" y1="400.37" x2="255.55" y2="401.14" stroke="#555555" stroke-width="0.6"/>
<line x1="250.33" y1="406.39" x2="249.89" y2="409.24" stroke="#555555" stroke-width="0.6"/>
<line x1="265.95" y1="395.32" x2="268.57" y2="396.82" stroke="#555555" stroke-width="0.6"/>
<line x1="242.29" y1="412.46" x2="246.07" y2="413.68" stroke="#555555" stroke-width="0.6"/>
<line x1="261.13" y1="411.06" x2="262.64" y2="411.91" stroke="#555555" stroke-width="0.6"/>
<line x1="268.74" y1="402.53" x2="267.12" y2="402.84" stroke="#555555" stroke-width="0.6"/>
<line x1="257.47" y1="406.40" x2="255.88" y2="407.99" stroke="#555555" stroke-width="0.6"/>
</g>
<line x1="210" y1="279.5" x2="280" y2="279.5" stroke="#d8d8d8" stroke-width="1" stroke-dasharray="3.6,2.4"/>
<line x1="210" y1="305.7" x2="280" y2="305.7" stroke="#d8d8d8" stroke-width="1" stroke-dasharray="3.6,2.4"/>
<line x1="238.6" y1="346" x2="238.6" y2="387.8" stroke="#d8d8d8" stroke-width="1" stroke-dasharray="3.6,2.4"/>
<line x1="210" y1="387.8" x2="280" y2="387.8" stroke="#d8d8d8" stroke-width="1" stroke-dasharray="3.6,2.4"/>
<line x1="233.6" y1="388" x2="233.6" y2="411.9" stroke="#d8d8d8" stroke-width="1" stroke-dasharray="3.6,2.4"/>
<line x1="210" y1="411.9" x2="233.6" y2="411.9" stroke="#d8d8d8" stroke-width="1" stroke-dasharray="3.6,2.4"/>
<line x1="259.8" y1="337.4" x2="274.6" y2="337.4" stroke="#eee" stroke-width="1.2"/>
<text x="267.20000000000005" y="341.8" font-size="4.0" text-anchor="middle" font-weight="normal" fill="#ddd">5 &#956;m</text>
<line x1="260.9" y1="425.4" x2="275.3" y2="425.4" stroke="#eee" stroke-width="1.2"/>
<text x="268.1" y="429.9" font-size="4.0" text-anchor="middle" font-weight="normal" fill="#ddd">5 &#956;m</text>
<line x1="108.5" y1="259.3" x2="113.7" y2="259.3" stroke="#ccc" stroke-width="0.9"/>
<text x="111.1" y="261.90000000000003" font-size="2.4" text-anchor="middle" font-weight="normal" fill="#aaa">5 &#956;m</text>
<line x1="123.8" y1="259.5" x2="133" y2="259.5" stroke="#ccc" stroke-width="0.9"/>
<text x="128.4" y="262.1" font-size="2.4" text-anchor="middle" font-weight="normal" fill="#aaa">5 &#956;m</text>
<line x1="107.7" y1="349.8" x2="112.5" y2="349.8" stroke="#ccc" stroke-width="0.9"/>
<text x="110.1" y="352.40000000000003" font-size="2.4" text-anchor="middle" font-weight="normal" fill="#aaa">5 &#956;m</text>
<line x1="195" y1="350.3" x2="204" y2="350.3" stroke="#ccc" stroke-width="0.9"/>
<text x="199.5" y="352.90000000000003" font-size="2.4" text-anchor="middle" font-weight="normal" fill="#aaa">5 &#956;m</text>
<rect x="0.5" y="0.5" width="519" height="442" fill="none" stroke="#000" stroke-width="1.2"/>
</svg>
</body></html>
